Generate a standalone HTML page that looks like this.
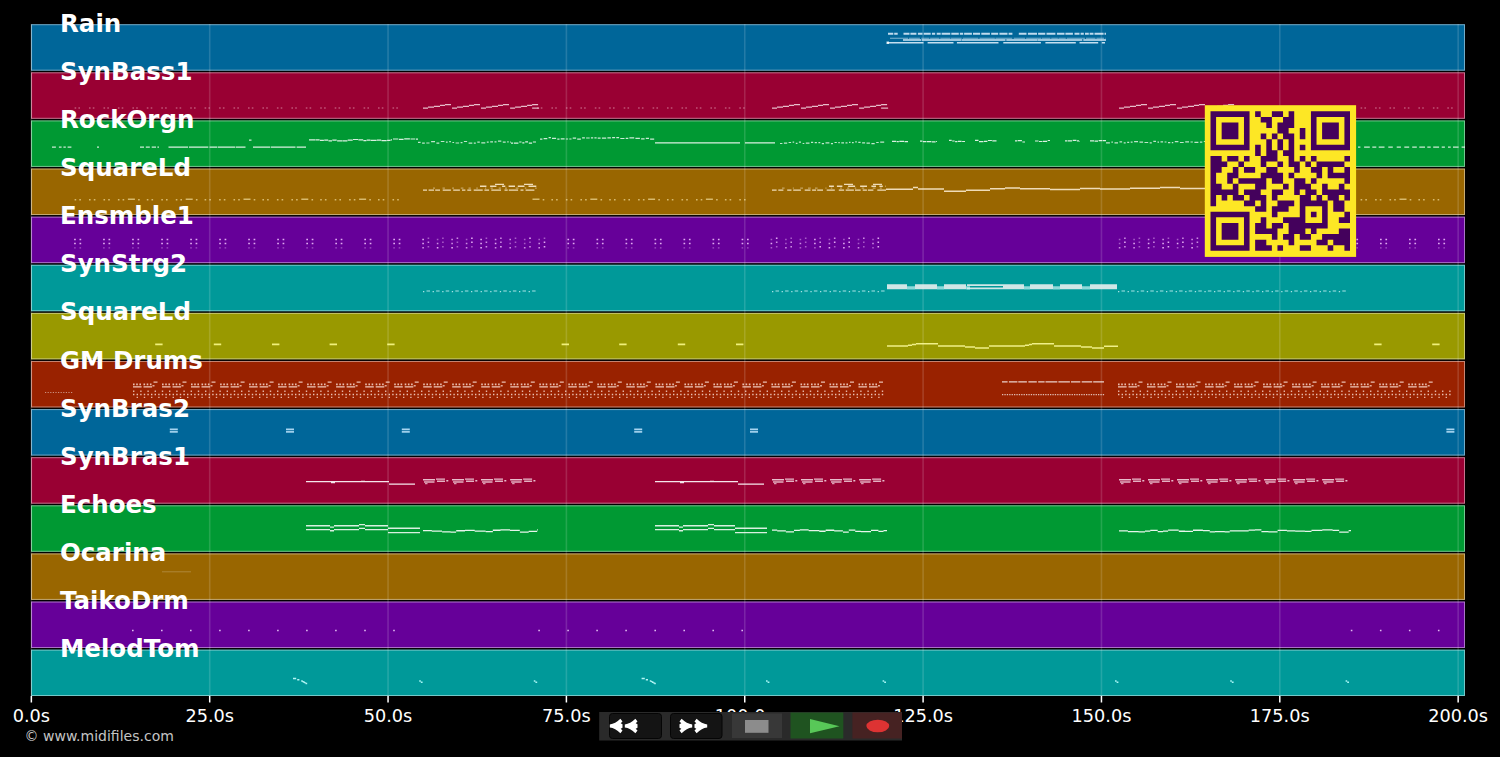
<!DOCTYPE html>
<html><head><meta charset="utf-8"><title>MIDI</title>
<style>html,body{margin:0;padding:0;background:#000;width:1500px;height:757px;overflow:hidden}</style>
</head><body>
<svg width="1500" height="757" viewBox="0 0 1500 757" style="position:absolute;left:0;top:0">
<rect x="31" y="24.20" width="1434" height="46.50" fill="#006699"/>
<rect x="31.5" y="24.70" width="1433" height="45.50" fill="none" stroke="rgba(255,255,255,0.45)" stroke-width="1"/>
<rect x="31" y="72.31" width="1434" height="46.50" fill="#990033"/>
<rect x="31.5" y="72.81" width="1433" height="45.50" fill="none" stroke="rgba(255,255,255,0.45)" stroke-width="1"/>
<rect x="31" y="120.42" width="1434" height="46.50" fill="#009933"/>
<rect x="31.5" y="120.92" width="1433" height="45.50" fill="none" stroke="rgba(255,255,255,0.45)" stroke-width="1"/>
<rect x="31" y="168.53" width="1434" height="46.50" fill="#996600"/>
<rect x="31.5" y="169.03" width="1433" height="45.50" fill="none" stroke="rgba(255,255,255,0.45)" stroke-width="1"/>
<rect x="31" y="216.64" width="1434" height="46.50" fill="#660099"/>
<rect x="31.5" y="217.14" width="1433" height="45.50" fill="none" stroke="rgba(255,255,255,0.45)" stroke-width="1"/>
<rect x="31" y="264.75" width="1434" height="46.50" fill="#009999"/>
<rect x="31.5" y="265.25" width="1433" height="45.50" fill="none" stroke="rgba(255,255,255,0.45)" stroke-width="1"/>
<rect x="31" y="312.86" width="1434" height="46.50" fill="#999900"/>
<rect x="31.5" y="313.36" width="1433" height="45.50" fill="none" stroke="rgba(255,255,255,0.45)" stroke-width="1"/>
<rect x="31" y="360.97" width="1434" height="46.50" fill="#992200"/>
<rect x="31.5" y="361.47" width="1433" height="45.50" fill="none" stroke="rgba(255,255,255,0.45)" stroke-width="1"/>
<rect x="31" y="409.08" width="1434" height="46.50" fill="#006699"/>
<rect x="31.5" y="409.58" width="1433" height="45.50" fill="none" stroke="rgba(255,255,255,0.45)" stroke-width="1"/>
<rect x="31" y="457.19" width="1434" height="46.50" fill="#990033"/>
<rect x="31.5" y="457.69" width="1433" height="45.50" fill="none" stroke="rgba(255,255,255,0.45)" stroke-width="1"/>
<rect x="31" y="505.30" width="1434" height="46.50" fill="#009933"/>
<rect x="31.5" y="505.80" width="1433" height="45.50" fill="none" stroke="rgba(255,255,255,0.45)" stroke-width="1"/>
<rect x="31" y="553.41" width="1434" height="46.50" fill="#996600"/>
<rect x="31.5" y="553.91" width="1433" height="45.50" fill="none" stroke="rgba(255,255,255,0.45)" stroke-width="1"/>
<rect x="31" y="601.52" width="1434" height="46.50" fill="#660099"/>
<rect x="31.5" y="602.02" width="1433" height="45.50" fill="none" stroke="rgba(255,255,255,0.45)" stroke-width="1"/>
<rect x="31" y="649.63" width="1434" height="46.37" fill="#009999"/>
<rect x="31.5" y="650.13" width="1433" height="45.37" fill="none" stroke="rgba(255,255,255,0.45)" stroke-width="1"/>
<line x1="31.35" y1="24" x2="31.35" y2="696" stroke="rgba(255,255,255,0.14)" stroke-width="1.6"/>
<line x1="209.70" y1="24" x2="209.70" y2="696" stroke="rgba(255,255,255,0.14)" stroke-width="1.6"/>
<line x1="388.05" y1="24" x2="388.05" y2="696" stroke="rgba(255,255,255,0.14)" stroke-width="1.6"/>
<line x1="566.40" y1="24" x2="566.40" y2="696" stroke="rgba(255,255,255,0.14)" stroke-width="1.6"/>
<line x1="744.75" y1="24" x2="744.75" y2="696" stroke="rgba(255,255,255,0.14)" stroke-width="1.6"/>
<line x1="923.10" y1="24" x2="923.10" y2="696" stroke="rgba(255,255,255,0.14)" stroke-width="1.6"/>
<line x1="1101.45" y1="24" x2="1101.45" y2="696" stroke="rgba(255,255,255,0.14)" stroke-width="1.6"/>
<line x1="1279.80" y1="24" x2="1279.80" y2="696" stroke="rgba(255,255,255,0.14)" stroke-width="1.6"/>
<line x1="1458.15" y1="24" x2="1458.15" y2="696" stroke="rgba(255,255,255,0.14)" stroke-width="1.6"/>
<g><path fill="#e8f4ff" fill-opacity="0.82" d="M888 32.8h5.3v1.9h-5.3zM894.2 32.8h3.5v1.9h-3.5zM903.5 32.8h6v1.9h-6zM910.4 32.8h6v1.9h-6zM917.9 32.8h4.6v1.9h-4.6zM923.7 32.8h7v1.9h-7zM931.9 32.8h3.3v1.9h-3.3zM936.7 32.8h4v1.9h-4zM941.6 32.8h8.7v1.9h-8.7zM951.3 32.8h7.5v1.9h-7.5zM959.8 32.8h3.4v1.9h-3.4zM964.1 32.8h7.8v1.9h-7.8zM973 32.8h7.1v1.9h-7.1zM981.3 32.8h8.6v1.9h-8.6zM991.2 32.8h7v1.9h-7zM999.4 32.8h8.1v1.9h-8.1zM1008.6 32.8h3.8v1.9h-3.8zM1018.8 32.8h7.7v1.9h-7.7zM1027.9 32.8h9.1v1.9h-9.1zM1038.1 32.8h7.2v1.9h-7.2zM1046.5 32.8h8.9v1.9h-8.9zM1056.9 32.8h7.6v1.9h-7.6zM1065.4 32.8h7.5v1.9h-7.5zM1074.5 32.8h5v1.9h-5zM1080.6 32.8h3.2v1.9h-3.2zM1085 32.8h3.8v1.9h-3.8zM1089.6 32.8h3.9v1.9h-3.9zM1094.5 32.8h9.1v1.9h-9.1zM1104.5 32.8h1.5v1.9h-1.5z"/><path fill="#e8f4ff" fill-opacity="0.55" d="M890 37.8h18.1v1h-18.1zM908.9 37.8h11v1h-11zM921.3 37.8h8.1v1h-8.1zM930.1 37.8h9.3v1h-9.3zM940.3 37.8h9.7v1h-9.7zM950.5 37.8h11.2v1h-11.2zM962.7 37.8h15.7v1h-15.7zM979.4 37.8h15.5v1h-15.5zM995.4 37.8h16.9v1h-16.9zM1013.7 37.8h11.5v1h-11.5zM1026.1 37.8h14.9v1h-14.9zM1041.6 37.8h8.9v1h-8.9zM1051.2 37.8h6.7v1h-6.7zM1058.4 37.8h7.4v1h-7.4zM1066.7 37.8h18.2v1h-18.2zM1086 37.8h9.5v1h-9.5zM1096.4 37.8h7.7v1h-7.7zM1105.5 37.8h0.5v1h-0.5z"/><path fill="#e8f4ff" fill-opacity="0.9" d="M903 39.3h18.1v1.4h-18.1zM921.7 39.3h39.9v1.4h-39.9zM962 39.3h43.5v1.4h-43.5zM1006.3 39.3h31.3v1.4h-31.3zM1037.9 39.3h44.4v1.4h-44.4zM1083.3 39.3h22.7v1.4h-22.7z"/><path fill="#e8f4ff" fill-opacity="0.85" d="M887 42.1h36.5v1.4h-36.5zM927.6 42.1h25.9v1.4h-25.9zM956.9 42.1h41.6v1.4h-41.6zM1003.3 42.1h37.6v1.4h-37.6zM1045.4 42.1h30.4v1.4h-30.4zM1079.5 42.1h18.7v1.4h-18.7zM1101.8 42.1h3.2v1.4h-3.2z"/><path fill="#fff" fill-opacity="0.8" d="M886.5 41.4h2.5v2.5h-2.5zM52 146.6h3.9v1.2h-3.9zM58.9 146.6h2.7v1.2h-2.7zM63.4 146.6h2.4v1.2h-2.4zM67.6 146.6h3.8v1.2h-3.8zM97 146.6h2v1.2h-2zM140 146.6h4v1.2h-4zM145.8 146.6h4v1.2h-4zM151.7 146.6h4.3v1.2h-4.3zM157.4 146.6h1.6v1.2h-1.6zM249 139.5h2.5v1.2h-2.5zM540 138.5h2.4v1.2h-2.4zM543.6 138.1h3.7v1.2h-3.7zM548.6 137.1h2.3v1.2h-2.3zM552 137.7h4.1v1.2h-4.1zM557.3 138.5h2.2v1.2h-2.2zM560.7 138.3h3.9v1.2h-3.9zM565.8 138.4h2.3v1.2h-2.3zM569.3 138.4h2.2v1.2h-2.2zM572.7 137.5h3.4v1.2h-3.4zM577.2 138.5h3.7v1.2h-3.7zM582.1 137.2h2.8v1.2h-2.8zM586.1 137.4h3.6v1.2h-3.6zM590.9 137.3h2.3v1.2h-2.3zM594.4 137.3h2.2v1.2h-2.2zM597.7 137.5h2.9v1.2h-2.9zM601.9 137.5h4.3v1.2h-4.3zM607.4 137.3h3.5v1.2h-3.5zM612.1 137h3v1.2h-3zM616.3 137h2.8v1.2h-2.8zM620.3 137.9h4.2v1.2h-4.2zM625.7 137.8h2.6v1.2h-2.6zM629.4 137.2h4.8v1.2h-4.8zM635.4 137.7h4.5v1.2h-4.5zM641.1 138.3h3.5v1.2h-3.5zM645.8 137.8h3.2v1.2h-3.2zM650.1 138.6h4.1v1.2h-4.1zM1358 146.6h2.4v1.2h-2.4zM1364.1 146.6h5.7v1.2h-5.7zM1372.3 146.6h4v1.2h-4zM1378.7 146.6h5.8v1.2h-5.8zM1388.3 146.6h4.5v1.2h-4.5zM1396.7 146.6h4.2v1.2h-4.2zM1404.3 146.6h4.9v1.2h-4.9zM1412.2 146.6h4.6v1.2h-4.6zM1419.3 146.6h5.7v1.2h-5.7zM1427.3 146.6h3.4v1.2h-3.4zM1433.2 146.6h5.9v1.2h-5.9zM1441.7 146.6h3.2v1.2h-3.2zM1448 146.6h2.7v1.2h-2.7zM1453 146.6h5.6v1.2h-5.6zM1461.6 146.6h3.4v1.2h-3.4zM1002 381.2h5.6v1.2h-5.6zM1008.9 381.2h8.5v1.2h-8.5zM1018.3 381.2h8.6v1.2h-8.6zM1028.4 381.2h8.4v1.2h-8.4zM1038.2 381.2h6.4v1.2h-6.4zM1045.5 381.2h11.8v1.2h-11.8zM1058.4 381.2h11.5v1.2h-11.5zM1071 381.2h9.3v1.2h-9.3zM1081.7 381.2h10.5v1.2h-10.5zM1093.2 381.2h10.8v1.2h-10.8z"/><path fill="#f4dde4" fill-opacity="0.85" d="M423 107.6h5v1.2h-5zM428 106.6h6v1.2h-6zM434 105.7h6v1.2h-6zM440 104.7h5v1.2h-5zM445 104h6v1.2h-6zM452 107.6h5v1.2h-5zM457 106.6h6v1.2h-6zM463 105.7h6v1.2h-6zM469 104.7h5v1.2h-5zM474 104h6v1.2h-6zM481 107.6h5v1.2h-5zM486 106.6h6v1.2h-6zM492 105.7h6v1.2h-6zM498 104.7h5v1.2h-5zM503 104h6v1.2h-6zM510.1 107.6h5v1.2h-5zM515.1 106.6h6v1.2h-6zM521.1 105.7h6v1.2h-6zM527.1 104.7h5v1.2h-5zM532.1 104h6v1.2h-6zM772 107.6h5v1.2h-5zM777 106.6h6v1.2h-6zM783 105.7h6v1.2h-6zM789 104.7h5v1.2h-5zM794 104h6v1.2h-6zM801 107.6h5v1.2h-5zM806 106.6h6v1.2h-6zM812 105.7h6v1.2h-6zM818 104.7h5v1.2h-5zM823 104h6v1.2h-6zM830 107.6h5v1.2h-5zM835 106.6h6v1.2h-6zM841 105.7h6v1.2h-6zM847 104.7h5v1.2h-5zM852 104h6v1.2h-6zM859.1 107.6h5v1.2h-5zM864.1 106.6h6v1.2h-6zM870.1 105.7h6v1.2h-6zM876.1 104.7h5v1.2h-5zM881.1 104h6v1.2h-6zM1119 107.6h5v1.2h-5zM1124 106.6h6v1.2h-6zM1130 105.7h6v1.2h-6zM1136 104.7h5v1.2h-5zM1141 104h6v1.2h-6zM1148 107.6h5v1.2h-5zM1153 106.6h6v1.2h-6zM1159 105.7h6v1.2h-6zM1165 104.7h5v1.2h-5zM1170 104h6v1.2h-6zM1177 107.6h5v1.2h-5zM1182 106.6h6v1.2h-6zM1188 105.7h6v1.2h-6zM1194 104.7h5v1.2h-5zM1199 104h6v1.2h-6zM1206.1 107.6h5v1.2h-5zM1211.1 106.6h6v1.2h-6zM1217.1 105.7h6v1.2h-6zM1223.1 104.7h5v1.2h-5zM1228.1 104h6v1.2h-6z"/><path fill="#f4dde4" fill-opacity="0.8" d="M532.1 107.6h7v1.2h-7zM881.1 107.6h7v1.2h-7zM1228.1 107.6h7v1.2h-7z"/><path fill="#ffd6e2" fill-opacity="0.38" d="M74.6 107.3h1.6v1.4h-1.6zM78.4 107.3h1.6v1.4h-1.6zM89 107.3h1.6v1.4h-1.6zM92.8 107.3h1.6v1.4h-1.6zM103.5 107.3h1.6v1.4h-1.6zM107.3 107.3h1.6v1.4h-1.6zM117.9 107.3h1.6v1.4h-1.6zM121.7 107.3h1.6v1.4h-1.6zM132.4 107.3h1.6v1.4h-1.6zM136.2 107.3h1.6v1.4h-1.6zM146.8 107.3h1.6v1.4h-1.6zM150.7 107.3h1.6v1.4h-1.6zM161.3 107.3h1.6v1.4h-1.6zM165.1 107.3h1.6v1.4h-1.6zM175.8 107.3h1.6v1.4h-1.6zM179.6 107.3h1.6v1.4h-1.6zM190.2 107.3h1.6v1.4h-1.6zM194 107.3h1.6v1.4h-1.6zM204.6 107.3h1.6v1.4h-1.6zM208.4 107.3h1.6v1.4h-1.6zM219.1 107.3h1.6v1.4h-1.6zM222.9 107.3h1.6v1.4h-1.6zM233.5 107.3h1.6v1.4h-1.6zM237.3 107.3h1.6v1.4h-1.6zM248 107.3h1.6v1.4h-1.6zM251.8 107.3h1.6v1.4h-1.6zM262.4 107.3h1.6v1.4h-1.6zM266.2 107.3h1.6v1.4h-1.6zM276.9 107.3h1.6v1.4h-1.6zM280.7 107.3h1.6v1.4h-1.6zM291.4 107.3h1.6v1.4h-1.6zM295.2 107.3h1.6v1.4h-1.6zM305.8 107.3h1.6v1.4h-1.6zM309.6 107.3h1.6v1.4h-1.6zM320.2 107.3h1.6v1.4h-1.6zM324.1 107.3h1.6v1.4h-1.6zM334.7 107.3h1.6v1.4h-1.6zM338.5 107.3h1.6v1.4h-1.6zM349.1 107.3h1.6v1.4h-1.6zM352.9 107.3h1.6v1.4h-1.6zM363.6 107.3h1.6v1.4h-1.6zM367.4 107.3h1.6v1.4h-1.6zM378 107.3h1.6v1.4h-1.6zM381.8 107.3h1.6v1.4h-1.6zM392.5 107.3h1.6v1.4h-1.6zM396.3 107.3h1.6v1.4h-1.6zM537 107.3h1.6v1.4h-1.6zM540.8 107.3h1.6v1.4h-1.6zM551.4 107.3h1.6v1.4h-1.6zM555.2 107.3h1.6v1.4h-1.6zM565.9 107.3h1.6v1.4h-1.6zM569.7 107.3h1.6v1.4h-1.6zM580.4 107.3h1.6v1.4h-1.6zM584.1 107.3h1.6v1.4h-1.6zM594.8 107.3h1.6v1.4h-1.6zM598.6 107.3h1.6v1.4h-1.6zM609.2 107.3h1.6v1.4h-1.6zM613 107.3h1.6v1.4h-1.6zM623.7 107.3h1.6v1.4h-1.6zM627.5 107.3h1.6v1.4h-1.6zM638.1 107.3h1.6v1.4h-1.6zM641.9 107.3h1.6v1.4h-1.6zM652.6 107.3h1.6v1.4h-1.6zM656.4 107.3h1.6v1.4h-1.6zM667 107.3h1.6v1.4h-1.6zM670.8 107.3h1.6v1.4h-1.6zM681.5 107.3h1.6v1.4h-1.6zM685.3 107.3h1.6v1.4h-1.6zM696 107.3h1.6v1.4h-1.6zM699.8 107.3h1.6v1.4h-1.6zM710.4 107.3h1.6v1.4h-1.6zM714.2 107.3h1.6v1.4h-1.6zM724.9 107.3h1.6v1.4h-1.6zM728.6 107.3h1.6v1.4h-1.6zM739.3 107.3h1.6v1.4h-1.6zM743.1 107.3h1.6v1.4h-1.6zM1360.6 107.3h1.6v1.4h-1.6zM1364.4 107.3h1.6v1.4h-1.6zM1375.1 107.3h1.6v1.4h-1.6zM1378.9 107.3h1.6v1.4h-1.6zM1389.5 107.3h1.6v1.4h-1.6zM1393.3 107.3h1.6v1.4h-1.6zM1404 107.3h1.6v1.4h-1.6zM1407.8 107.3h1.6v1.4h-1.6zM1418.4 107.3h1.6v1.4h-1.6zM1422.2 107.3h1.6v1.4h-1.6zM1432.9 107.3h1.6v1.4h-1.6zM1436.7 107.3h1.6v1.4h-1.6zM1447.3 107.3h1.6v1.4h-1.6zM1451.1 107.3h1.6v1.4h-1.6z"/><path fill="#fff" fill-opacity="0.85" d="M168.5 146.6h19.6v1.2h-19.6zM189 146.6h19.3v1.2h-19.3zM209.5 146.6h7.8v1.2h-7.8zM217.9 146.6h17.3v1.2h-17.3zM235.8 146.6h9.7v1.2h-9.7zM253 146.6h17.3v1.2h-17.3zM271 146.6h24.5v1.2h-24.5zM296.6 146.6h9.4v1.2h-9.4zM309 139.2h6.3v1.2h-6.3zM315.6 139.3h4v1.2h-4zM319.9 139.7h4v1.2h-4zM324.2 139.5h4v1.2h-4zM328.5 140.2h3.5v1.2h-3.5zM332.3 139.5h4.4v1.2h-4.4zM337.1 140.2h5.3v1.2h-5.3zM342.7 140.2h4.7v1.2h-4.7zM347.7 139.6h5v1.2h-5zM353 138.9h5.1v1.2h-5.1zM358.4 139.2h4.8v1.2h-4.8zM363.4 140h3v1.2h-3zM366.7 139.6h3.7v1.2h-3.7zM370.7 139.7h5.9v1.2h-5.9zM376.9 139.6h4.3v1.2h-4.3zM381.5 140h5.2v1.2h-5.2zM387.1 139.7h3.4v1.2h-3.4zM390.8 139.3h1.2v1.2h-1.2zM393 138.4h5.3v1.2h-5.3zM398.9 138.7h4.7v1.2h-4.7zM404.2 138.3h5.7v1.2h-5.7zM410.5 138.4h4.8v1.2h-4.8zM416 138.6h2v1.2h-2zM511 142.6h2.2v1.2h-2.2zM514 142.6h4.4v1.2h-4.4zM519.2 141.4h2.3v1.2h-2.3zM522.3 142.2h2.1v1.2h-2.1zM525.2 141.2h2.8v1.2h-2.8zM528.8 142.5h3.3v1.2h-3.3zM532.9 141.4h3.1v1.2h-3.1zM655 142.3h85v1.3h-85zM745 142.3h30v1.3h-30zM892 140.8h4.2v1.2h-4.2zM896.7 141.1h2.1v1.2h-2.1zM899.3 140.8h4.7v1.2h-4.7zM904.5 141.1h3.5v1.2h-3.5zM920 140.6h2.4v1.2h-2.4zM922.9 141.1h3.5v1.2h-3.5zM926.9 141.1h4.4v1.2h-4.4zM931.8 141.2h3.8v1.2h-3.8zM936.1 140.9h0.9v1.2h-0.9zM949 139.8h2.7v1.2h-2.7zM952.2 140.4h2.4v1.2h-2.4zM955.1 141.1h2.3v1.2h-2.3zM957.9 140.8h3.7v1.2h-3.7zM962.1 140.9h2.9v1.2h-2.9zM975 139.8h3.5v1.2h-3.5zM979 141h4.4v1.2h-4.4zM983.9 140.7h3.5v1.2h-3.5zM987.9 139.9h4v1.2h-4zM992.3 140.2h4.2v1.2h-4.2zM1015 140.2h2.2v1.2h-2.2zM1017.7 140.1h4.2v1.2h-4.2zM1022.4 141.4h2.6v1.2h-2.6zM1035 140.4h3.5v1.2h-3.5zM1039 140.9h3.4v1.2h-3.4zM1042.9 140.8h4.3v1.2h-4.3zM1047.7 139.9h2.3v1.2h-2.3zM1065 140.2h2.4v1.2h-2.4zM1067.9 140.3h4.2v1.2h-4.2zM1072.7 139.8h3.7v1.2h-3.7zM1076.9 140.2h2.2v1.2h-2.2zM1079.6 140.9h0.4v1.2h-0.4zM1090 140.3h4v1.2h-4zM1094.5 140.5h3.5v1.2h-3.5zM1098.6 140h3.4v1.2h-3.4zM1102.5 140.1h3.5v1.2h-3.5zM306 525.1h24v1.3h-24zM334 525.1h25v1.3h-25zM365 525.1h23v1.3h-23zM388 527.6h32v1.3h-32zM306 529h24v1.3h-24zM334 529h25v1.3h-25zM365 529h23v1.3h-23zM388 531.9h32v1.3h-32zM330 526.4h4v1.3h-4zM330 530.1h4v1.3h-4zM359 524h6v1.3h-6zM359 527.8h6v1.3h-6zM655 525.1h24v1.3h-24zM683 525.1h25v1.3h-25zM714 525.1h21v1.3h-21zM735 527.6h32v1.3h-32zM655 529h24v1.3h-24zM683 529h25v1.3h-25zM714 529h21v1.3h-21zM735 531.9h32v1.3h-32zM679 526.4h4v1.3h-4zM679 530.1h4v1.3h-4zM708 524h6v1.3h-6zM708 527.8h6v1.3h-6z"/><path fill="#fff" fill-opacity="0.75" d="M418 141.7h2.6v1.2h-2.6zM422.1 142.5h2.7v1.2h-2.7zM426.3 142.4h3.2v1.2h-3.2zM431.1 141.1h3.9v1.2h-3.9zM436.4 142.5h2.9v1.2h-2.9zM440.8 140.9h3.6v1.2h-3.6zM445.9 141.5h1.8v1.2h-1.8zM449.2 141.1h1.7v1.2h-1.7zM452.4 141.9h1.7v1.2h-1.7zM455.6 142.4h3.5v1.2h-3.5zM460.6 142h1.9v1.2h-1.9zM463.9 140.9h3.2v1.2h-3.2zM468.6 142.5h3.7v1.2h-3.7zM473.8 142.5h2v1.2h-2zM477.3 141.6h2.5v1.2h-2.5zM481.3 142.3h4v1.2h-4zM486.8 141.5h1.9v1.2h-1.9zM490.2 141.3h2.8v1.2h-2.8zM494.5 141.2h2v1.2h-2zM498 140.6h3.3v1.2h-3.3zM502.8 141.5h2.9v1.2h-2.9zM507.2 141.3h1.5v1.2h-1.5zM510.2 141.6h0.8v1.2h-0.8zM780 142.9h2.4v1.2h-2.4zM783.9 142.5h3.3v1.2h-3.3zM788.6 141.9h2.5v1.2h-2.5zM792.6 141.5h1.6v1.2h-1.6zM795.8 142.7h1.7v1.2h-1.7zM798.9 141.5h2.1v1.2h-2.1zM802.6 142.9h1.7v1.2h-1.7zM805.8 142.5h3.7v1.2h-3.7zM811 141.7h2.2v1.2h-2.2zM814.7 142.1h2.2v1.2h-2.2zM818.4 142.1h1.9v1.2h-1.9zM821.8 143.1h2.2v1.2h-2.2zM825.5 142.3h3.9v1.2h-3.9zM830.9 143.1h2.1v1.2h-2.1zM834.5 141.9h2.3v1.2h-2.3zM838.3 142h1.5v1.2h-1.5zM841.3 142.2h2.7v1.2h-2.7zM845.5 142.2h2v1.2h-2zM849 141.7h1.5v1.2h-1.5zM852 142h1.7v1.2h-1.7zM855.2 141.2h1.6v1.2h-1.6zM858.3 141.7h2.3v1.2h-2.3zM862.1 142.3h3v1.2h-3zM866.5 142.5h3.4v1.2h-3.4zM871.4 143h3.3v1.2h-3.3zM876.2 141.9h2.5v1.2h-2.5zM880.2 141.5h4v1.2h-4zM1106 142.3h3.9v1.2h-3.9zM1111.4 141.5h1.5v1.2h-1.5zM1114.5 142.3h3.5v1.2h-3.5zM1119.5 141.2h2.6v1.2h-2.6zM1123.7 142.3h2v1.2h-2zM1127.2 141.7h2v1.2h-2zM1130.7 141.6h1.9v1.2h-1.9zM1134.1 141h3.9v1.2h-3.9zM1139.5 141.6h3.6v1.2h-3.6zM1144.5 141.9h3.7v1.2h-3.7zM1149.7 142.2h2.1v1.2h-2.1zM1153.3 140.8h2.7v1.2h-2.7zM1157.5 141.6h1.5v1.2h-1.5zM1160.5 141.3h2.6v1.2h-2.6zM1164.6 141.4h1.9v1.2h-1.9zM1168 142.1h2.3v1.2h-2.3zM1171.8 142h1.5v1.2h-1.5zM1174.8 141h3.6v1.2h-3.6zM1179.9 141.9h3.8v1.2h-3.8zM1185.2 141.3h3.8v1.2h-3.8zM1190.5 141.4h2.4v1.2h-2.4zM1194.4 141.7h4v1.2h-4zM1199.9 141.5h2.4v1.2h-2.4zM1203.8 140.9h1.2v1.2h-1.2z"/><path fill="#ffeeb0" fill-opacity="0.62" d="M74.6 199h1.6v1.4h-1.6zM79.3 199h1.6v1.4h-1.6zM89 199h1.6v1.4h-1.6zM93.8 199h1.6v1.4h-1.6zM103.5 199h1.6v1.4h-1.6zM108.2 199h1.6v1.4h-1.6zM117.9 199h1.6v1.4h-1.6zM122.6 199h1.6v1.4h-1.6zM127.9 198.6h7v1.4h-7zM138.1 199h1.6v1.4h-1.6zM146.8 199h1.6v1.4h-1.6zM151.5 199h1.6v1.4h-1.6zM161.3 199h1.6v1.4h-1.6zM166 199h1.6v1.4h-1.6zM175.8 199h1.6v1.4h-1.6zM180.4 199h1.6v1.4h-1.6zM185.7 198.6h7v1.4h-7zM195.9 199h1.6v1.4h-1.6zM204.6 199h1.6v1.4h-1.6zM209.3 199h1.6v1.4h-1.6zM219.1 199h1.6v1.4h-1.6zM223.8 199h1.6v1.4h-1.6zM233.5 199h1.6v1.4h-1.6zM238.2 199h1.6v1.4h-1.6zM243.5 198.6h7v1.4h-7zM253.7 199h1.6v1.4h-1.6zM262.4 199h1.6v1.4h-1.6zM267.1 199h1.6v1.4h-1.6zM276.9 199h1.6v1.4h-1.6zM281.6 199h1.6v1.4h-1.6zM291.4 199h1.6v1.4h-1.6zM296.1 199h1.6v1.4h-1.6zM301.3 198.6h7v1.4h-7zM311.5 199h1.6v1.4h-1.6zM320.2 199h1.6v1.4h-1.6zM324.9 199h1.6v1.4h-1.6zM334.7 199h1.6v1.4h-1.6zM339.4 199h1.6v1.4h-1.6zM349.1 199h1.6v1.4h-1.6zM353.8 199h1.6v1.4h-1.6zM359.1 198.6h7v1.4h-7zM369.3 199h1.6v1.4h-1.6zM378 199h1.6v1.4h-1.6zM382.7 199h1.6v1.4h-1.6zM392.5 199h1.6v1.4h-1.6zM397.2 199h1.6v1.4h-1.6zM532.5 198.6h7v1.4h-7zM542.7 199h1.6v1.4h-1.6zM551.4 199h1.6v1.4h-1.6zM556.1 199h1.6v1.4h-1.6zM565.9 199h1.6v1.4h-1.6zM570.6 199h1.6v1.4h-1.6zM580.4 199h1.6v1.4h-1.6zM585.1 199h1.6v1.4h-1.6zM590.3 198.6h7v1.4h-7zM600.5 199h1.6v1.4h-1.6zM609.2 199h1.6v1.4h-1.6zM614 199h1.6v1.4h-1.6zM623.7 199h1.6v1.4h-1.6zM628.4 199h1.6v1.4h-1.6zM638.1 199h1.6v1.4h-1.6zM642.9 199h1.6v1.4h-1.6zM648.1 198.6h7v1.4h-7zM658.3 199h1.6v1.4h-1.6zM667 199h1.6v1.4h-1.6zM671.8 199h1.6v1.4h-1.6zM681.5 199h1.6v1.4h-1.6zM686.2 199h1.6v1.4h-1.6zM696 199h1.6v1.4h-1.6zM700.7 199h1.6v1.4h-1.6zM705.9 198.6h7v1.4h-7zM716.1 199h1.6v1.4h-1.6zM724.9 199h1.6v1.4h-1.6zM729.6 199h1.6v1.4h-1.6zM739.3 199h1.6v1.4h-1.6zM744 199h1.6v1.4h-1.6zM1360.6 199h1.6v1.4h-1.6zM1365.3 199h1.6v1.4h-1.6zM1375.1 199h1.6v1.4h-1.6zM1379.8 199h1.6v1.4h-1.6zM1389.5 199h1.6v1.4h-1.6zM1394.2 199h1.6v1.4h-1.6zM1399.5 198.6h7v1.4h-7zM1409.7 199h1.6v1.4h-1.6zM1418.4 199h1.6v1.4h-1.6zM1423.1 199h1.6v1.4h-1.6zM1432.9 199h1.6v1.4h-1.6zM1437.6 199h1.6v1.4h-1.6z"/><path fill="#fff1d8" fill-opacity="0.85" d="M423 189.4h4v1.4h-4zM428.6 189.4h5.4v1.4h-5.4zM435.2 189.4h4.8v1.4h-4.8zM442.7 189.4h8.2v1.4h-8.2zM453.2 189.4h6.7v1.4h-6.7zM462 189.4h3.4v1.4h-3.4zM467.3 189.4h3.9v1.4h-3.9zM473.7 189.4h9v1.4h-9zM484.4 189.4h4.7v1.4h-4.7zM491.3 189.4h9.7v1.4h-9.7zM504.5 189.4h3.2v1.4h-3.2zM508.8 189.4h9.3v1.4h-9.3zM520.5 189.4h3v1.4h-3zM525.6 189.4h8.8v1.4h-8.8zM538 189.4h0v1.4h-0zM480 185.6h6.4v1.4h-6.4zM490.1 185.6h6.3v1.4h-6.3zM502.1 185.6h3.2v1.4h-3.2zM508.6 185.6h6.4v1.4h-6.4zM517.8 185.6h6.7v1.4h-6.7zM528.5 185.6h7.8v1.4h-7.8zM495 183.8h9v1.3h-9zM524 183.8h9v1.3h-9zM772 189.4h4.6v1.4h-4.6zM778.3 189.4h5.1v1.4h-5.1zM787.2 189.4h4.3v1.4h-4.3zM793.2 189.4h7.7v1.4h-7.7zM804.7 189.4h5.8v1.4h-5.8zM812.1 189.4h4v1.4h-4zM817.2 189.4h5.8v1.4h-5.8zM826.7 189.4h8.1v1.4h-8.1zM838.8 189.4h5.3v1.4h-5.3zM845.7 189.4h8.2v1.4h-8.2zM855 189.4h5.7v1.4h-5.7zM862.7 189.4h4.2v1.4h-4.2zM867.9 189.4h5.5v1.4h-5.5zM877.3 189.4h8.7v1.4h-8.7zM829 185.6h4.9v1.4h-4.9zM836.9 185.6h5.5v1.4h-5.5zM848.1 185.6h7v1.4h-7zM860.1 185.6h6.9v1.4h-6.9zM871.4 185.6h4.6v1.4h-4.6zM879.4 185.6h3.4v1.4h-3.4zM885.6 185.6h0.4v1.4h-0.4zM844 183.8h9v1.3h-9zM873 183.8h9v1.3h-9zM886 188.4h27v1.5h-27zM913 186.8h5v1.5h-5zM918 188.2h26v1.5h-26zM944 190.4h22v1.5h-22zM966 189.6h24v1.5h-24zM990 188.1h15v1.5h-15zM1005 187.2h15v1.5h-15zM1020 188.1h30v1.5h-30zM1050 188.8h30v1.5h-30zM1080 187.7h20v1.5h-20zM1100 188.2h30v1.5h-30zM1130 187.4h30v1.5h-30zM1160 186.8h20v1.5h-20zM1180 187.8h25v1.5h-25z"/><path fill="#fff1d8" fill-opacity="0.45" d="M433 187.6h2v1.1h-2zM442.5 187.6h2.4v1.1h-2.4zM452.1 187.6h1.9v1.1h-1.9zM460.8 187.6h2.6v1.1h-2.6zM468.5 187.6h2.3v1.1h-2.3zM476.3 187.6h1.5v1.1h-1.5zM485 187.6h1.2v1.1h-1.2zM490.6 187.6h2.2v1.1h-2.2zM498.7 187.6h2.2v1.1h-2.2zM505 187.6h1.9v1.1h-1.9zM515.7 187.6h2.8v1.1h-2.8zM524.8 187.6h1.5v1.1h-1.5zM535.1 187.6h1.6v1.1h-1.6zM782 187.6h2.6v1.1h-2.6zM792.8 187.6h1.1v1.1h-1.1zM800.2 187.6h2.8v1.1h-2.8zM808 187.6h2.8v1.1h-2.8zM815 187.6h2.6v1.1h-2.6zM825.4 187.6h1.1v1.1h-1.1zM830.8 187.6h1.5v1.1h-1.5zM840.1 187.6h1.7v1.1h-1.7zM847.1 187.6h2.2v1.1h-2.2zM854.6 187.6h1.6v1.1h-1.6zM861.7 187.6h2.5v1.1h-2.5zM872.7 187.6h2.9v1.1h-2.9zM879.8 187.6h2v1.1h-2z"/><path fill="#f6c8ff" fill-opacity="0.85" d="M74.1 238.7h1.7v1.6h-1.7zM74.1 242.7h1.7v1.6h-1.7zM79.5 238.7h1.7v1.6h-1.7zM79.5 242.7h1.7v1.6h-1.7zM103.1 238.7h1.7v1.6h-1.7zM103.1 242.7h1.7v1.6h-1.7zM108.5 238.7h1.7v1.6h-1.7zM108.5 242.7h1.7v1.6h-1.7zM132.1 238.7h1.7v1.6h-1.7zM132.1 242.7h1.7v1.6h-1.7zM137.5 238.7h1.7v1.6h-1.7zM137.5 242.7h1.7v1.6h-1.7zM161.2 238.7h1.7v1.6h-1.7zM161.2 242.7h1.7v1.6h-1.7zM166.6 238.7h1.7v1.6h-1.7zM166.6 242.7h1.7v1.6h-1.7zM190.2 238.7h1.7v1.6h-1.7zM190.2 242.7h1.7v1.6h-1.7zM195.6 238.7h1.7v1.6h-1.7zM195.6 242.7h1.7v1.6h-1.7zM219.2 238.7h1.7v1.6h-1.7zM219.2 242.7h1.7v1.6h-1.7zM224.6 238.7h1.7v1.6h-1.7zM224.6 242.7h1.7v1.6h-1.7zM248.2 238.7h1.7v1.6h-1.7zM248.2 242.7h1.7v1.6h-1.7zM253.6 238.7h1.7v1.6h-1.7zM253.6 242.7h1.7v1.6h-1.7zM277.2 238.7h1.7v1.6h-1.7zM277.2 242.7h1.7v1.6h-1.7zM282.6 238.7h1.7v1.6h-1.7zM282.6 242.7h1.7v1.6h-1.7zM306.3 238.7h1.7v1.6h-1.7zM306.3 242.7h1.7v1.6h-1.7zM311.7 238.7h1.7v1.6h-1.7zM311.7 242.7h1.7v1.6h-1.7zM335.3 238.7h1.7v1.6h-1.7zM335.3 242.7h1.7v1.6h-1.7zM340.7 238.7h1.7v1.6h-1.7zM340.7 242.7h1.7v1.6h-1.7zM364.3 238.7h1.7v1.6h-1.7zM364.3 242.7h1.7v1.6h-1.7zM369.7 238.7h1.7v1.6h-1.7zM369.7 242.7h1.7v1.6h-1.7zM393.3 238.7h1.7v1.6h-1.7zM393.3 242.7h1.7v1.6h-1.7zM398.7 238.7h1.7v1.6h-1.7zM398.7 242.7h1.7v1.6h-1.7zM567.4 238.7h1.7v1.6h-1.7zM567.4 242.7h1.7v1.6h-1.7zM572.8 238.7h1.7v1.6h-1.7zM572.8 242.7h1.7v1.6h-1.7zM596.5 238.7h1.7v1.6h-1.7zM596.5 242.7h1.7v1.6h-1.7zM601.9 238.7h1.7v1.6h-1.7zM601.9 242.7h1.7v1.6h-1.7zM625.5 238.7h1.7v1.6h-1.7zM625.5 242.7h1.7v1.6h-1.7zM630.9 238.7h1.7v1.6h-1.7zM630.9 242.7h1.7v1.6h-1.7zM654.5 238.7h1.7v1.6h-1.7zM654.5 242.7h1.7v1.6h-1.7zM659.9 238.7h1.7v1.6h-1.7zM659.9 242.7h1.7v1.6h-1.7zM683.5 238.7h1.7v1.6h-1.7zM683.5 242.7h1.7v1.6h-1.7zM688.9 238.7h1.7v1.6h-1.7zM688.9 242.7h1.7v1.6h-1.7zM712.5 238.7h1.7v1.6h-1.7zM712.5 242.7h1.7v1.6h-1.7zM717.9 238.7h1.7v1.6h-1.7zM717.9 242.7h1.7v1.6h-1.7zM741.6 238.7h1.7v1.6h-1.7zM741.6 242.7h1.7v1.6h-1.7zM747 238.7h1.7v1.6h-1.7zM747 242.7h1.7v1.6h-1.7zM1351 238.7h1.7v1.6h-1.7zM1351 242.7h1.7v1.6h-1.7zM1356.4 238.7h1.7v1.6h-1.7zM1356.4 242.7h1.7v1.6h-1.7zM1380 238.7h1.7v1.6h-1.7zM1380 242.7h1.7v1.6h-1.7zM1385.4 238.7h1.7v1.6h-1.7zM1385.4 242.7h1.7v1.6h-1.7zM1409 238.7h1.7v1.6h-1.7zM1409 242.7h1.7v1.6h-1.7zM1414.4 238.7h1.7v1.6h-1.7zM1414.4 242.7h1.7v1.6h-1.7zM1438 238.7h1.7v1.6h-1.7zM1438 242.7h1.7v1.6h-1.7zM1443.4 238.7h1.7v1.6h-1.7zM1443.4 242.7h1.7v1.6h-1.7zM422.3 238.7h1.6v1.5h-1.6zM422.3 242.7h1.6v1.5h-1.6zM436.8 247.1h1.6v1.5h-1.6zM451.3 247.1h1.6v1.5h-1.6zM471.1 237.4h1.6v1.5h-1.6zM471.1 241.4h1.6v1.5h-1.6zM480.3 238.7h1.6v1.5h-1.6zM480.3 242.7h1.6v1.5h-1.6zM480.3 247.1h1.6v1.5h-1.6zM494.8 242.7h1.6v1.5h-1.6zM500.1 246.1h1.6v1.5h-1.6zM529.2 237.4h1.6v1.5h-1.6zM543.7 241.4h1.6v1.5h-1.6zM543.7 246.1h1.6v1.5h-1.6zM770.6 242.7h1.6v1.5h-1.6zM775.9 237.4h1.6v1.5h-1.6zM814.1 238.7h1.6v1.5h-1.6zM814.1 242.7h1.6v1.5h-1.6zM819.4 246.1h1.6v1.5h-1.6zM828.6 247.1h1.6v1.5h-1.6zM833.9 241.4h1.6v1.5h-1.6zM843.1 242.7h1.6v1.5h-1.6zM843.1 247.1h1.6v1.5h-1.6zM848.4 237.4h1.6v1.5h-1.6zM848.4 241.4h1.6v1.5h-1.6zM877.5 237.4h1.6v1.5h-1.6zM877.5 241.4h1.6v1.5h-1.6zM877.5 246.1h1.6v1.5h-1.6zM1124.1 241.4h1.6v1.5h-1.6zM1133.3 242.7h1.6v1.5h-1.6zM1147.8 242.7h1.6v1.5h-1.6zM1162.3 242.7h1.6v1.5h-1.6zM1162.3 247.1h1.6v1.5h-1.6zM1167.6 241.4h1.6v1.5h-1.6zM1167.6 246.1h1.6v1.5h-1.6zM1176.8 242.7h1.6v1.5h-1.6zM1182.1 241.4h1.6v1.5h-1.6zM1191.3 247.1h1.6v1.5h-1.6z"/><path fill="#f6c8ff" fill-opacity="0.4" d="M74.1 247.2h1.6v1.4h-1.6zM79.5 247.2h1.6v1.4h-1.6zM103.1 247.2h1.6v1.4h-1.6zM108.5 247.2h1.6v1.4h-1.6zM132.1 247.2h1.6v1.4h-1.6zM137.5 247.2h1.6v1.4h-1.6zM161.2 247.2h1.6v1.4h-1.6zM166.6 247.2h1.6v1.4h-1.6zM190.2 247.2h1.6v1.4h-1.6zM195.6 247.2h1.6v1.4h-1.6zM219.2 247.2h1.6v1.4h-1.6zM224.6 247.2h1.6v1.4h-1.6zM248.2 247.2h1.6v1.4h-1.6zM253.6 247.2h1.6v1.4h-1.6zM277.2 247.2h1.6v1.4h-1.6zM282.6 247.2h1.6v1.4h-1.6zM306.3 247.2h1.6v1.4h-1.6zM311.7 247.2h1.6v1.4h-1.6zM335.3 247.2h1.6v1.4h-1.6zM340.7 247.2h1.6v1.4h-1.6zM364.3 247.2h1.6v1.4h-1.6zM369.7 247.2h1.6v1.4h-1.6zM393.3 247.2h1.6v1.4h-1.6zM398.7 247.2h1.6v1.4h-1.6zM567.4 247.2h1.6v1.4h-1.6zM572.8 247.2h1.6v1.4h-1.6zM596.5 247.2h1.6v1.4h-1.6zM601.9 247.2h1.6v1.4h-1.6zM625.5 247.2h1.6v1.4h-1.6zM630.9 247.2h1.6v1.4h-1.6zM654.5 247.2h1.6v1.4h-1.6zM659.9 247.2h1.6v1.4h-1.6zM683.5 247.2h1.6v1.4h-1.6zM688.9 247.2h1.6v1.4h-1.6zM712.5 247.2h1.6v1.4h-1.6zM717.9 247.2h1.6v1.4h-1.6zM741.6 247.2h1.6v1.4h-1.6zM747 247.2h1.6v1.4h-1.6zM1351 247.2h1.6v1.4h-1.6zM1356.4 247.2h1.6v1.4h-1.6zM1380 247.2h1.6v1.4h-1.6zM1385.4 247.2h1.6v1.4h-1.6zM1409 247.2h1.6v1.4h-1.6zM1414.4 247.2h1.6v1.4h-1.6zM1438 247.2h1.6v1.4h-1.6zM1443.4 247.2h1.6v1.4h-1.6z"/><path fill="#f6c8ff" fill-opacity="0.7" d="M422.3 247.1h1.6v1.5h-1.6zM427.6 241.4h1.6v1.5h-1.6zM436.8 242.7h1.6v1.5h-1.6zM451.3 238.7h1.6v1.5h-1.6zM451.3 242.7h1.6v1.5h-1.6zM456.6 237.4h1.6v1.5h-1.6zM465.8 242.7h1.6v1.5h-1.6zM465.8 247.1h1.6v1.5h-1.6zM485.6 241.4h1.6v1.5h-1.6zM485.6 246.1h1.6v1.5h-1.6zM494.8 238.7h1.6v1.5h-1.6zM494.8 247.1h1.6v1.5h-1.6zM500.1 237.4h1.6v1.5h-1.6zM500.1 241.4h1.6v1.5h-1.6zM509.4 238.7h1.6v1.5h-1.6zM509.4 247.1h1.6v1.5h-1.6zM523.9 247.1h1.6v1.5h-1.6zM529.2 246.1h1.6v1.5h-1.6zM538.4 242.7h1.6v1.5h-1.6zM538.4 247.1h1.6v1.5h-1.6zM775.9 241.4h1.6v1.5h-1.6zM785.1 247.1h1.6v1.5h-1.6zM790.4 241.4h1.6v1.5h-1.6zM790.4 246.1h1.6v1.5h-1.6zM799.6 242.7h1.6v1.5h-1.6zM819.4 241.4h1.6v1.5h-1.6zM828.6 242.7h1.6v1.5h-1.6zM833.9 237.4h1.6v1.5h-1.6zM848.4 246.1h1.6v1.5h-1.6zM857.7 247.1h1.6v1.5h-1.6zM863 237.4h1.6v1.5h-1.6zM872.2 242.7h1.6v1.5h-1.6zM1118.8 247.1h1.6v1.5h-1.6zM1124.1 237.4h1.6v1.5h-1.6zM1124.1 246.1h1.6v1.5h-1.6zM1133.3 247.1h1.6v1.5h-1.6zM1147.8 238.7h1.6v1.5h-1.6zM1147.8 247.1h1.6v1.5h-1.6zM1153.1 241.4h1.6v1.5h-1.6zM1162.3 238.7h1.6v1.5h-1.6zM1182.1 237.4h1.6v1.5h-1.6zM1182.1 246.1h1.6v1.5h-1.6zM1191.3 238.7h1.6v1.5h-1.6zM1191.3 242.7h1.6v1.5h-1.6zM1196.6 237.4h1.6v1.5h-1.6zM1196.6 241.4h1.6v1.5h-1.6z"/><path fill="#f6c8ff" fill-opacity="0.45" d="M427.6 237.4h1.6v1.5h-1.6zM427.6 246.1h1.6v1.5h-1.6zM436.8 238.7h1.6v1.5h-1.6zM442.1 237.4h1.6v1.5h-1.6zM442.1 241.4h1.6v1.5h-1.6zM442.1 246.1h1.6v1.5h-1.6zM456.6 241.4h1.6v1.5h-1.6zM456.6 246.1h1.6v1.5h-1.6zM465.8 238.7h1.6v1.5h-1.6zM471.1 246.1h1.6v1.5h-1.6zM485.6 237.4h1.6v1.5h-1.6zM509.4 242.7h1.6v1.5h-1.6zM514.7 237.4h1.6v1.5h-1.6zM514.7 241.4h1.6v1.5h-1.6zM514.7 246.1h1.6v1.5h-1.6zM523.9 238.7h1.6v1.5h-1.6zM523.9 242.7h1.6v1.5h-1.6zM529.2 241.4h1.6v1.5h-1.6zM538.4 238.7h1.6v1.5h-1.6zM543.7 237.4h1.6v1.5h-1.6zM770.6 238.7h1.6v1.5h-1.6zM770.6 247.1h1.6v1.5h-1.6zM775.9 246.1h1.6v1.5h-1.6zM785.1 238.7h1.6v1.5h-1.6zM785.1 242.7h1.6v1.5h-1.6zM790.4 237.4h1.6v1.5h-1.6zM799.6 238.7h1.6v1.5h-1.6zM799.6 247.1h1.6v1.5h-1.6zM804.9 237.4h1.6v1.5h-1.6zM804.9 241.4h1.6v1.5h-1.6zM804.9 246.1h1.6v1.5h-1.6zM814.1 247.1h1.6v1.5h-1.6zM819.4 237.4h1.6v1.5h-1.6zM828.6 238.7h1.6v1.5h-1.6zM833.9 246.1h1.6v1.5h-1.6zM843.1 238.7h1.6v1.5h-1.6zM857.7 238.7h1.6v1.5h-1.6zM857.7 242.7h1.6v1.5h-1.6zM863 241.4h1.6v1.5h-1.6zM863 246.1h1.6v1.5h-1.6zM872.2 238.7h1.6v1.5h-1.6zM872.2 247.1h1.6v1.5h-1.6zM1118.8 238.7h1.6v1.5h-1.6zM1118.8 242.7h1.6v1.5h-1.6zM1133.3 238.7h1.6v1.5h-1.6zM1138.6 237.4h1.6v1.5h-1.6zM1138.6 241.4h1.6v1.5h-1.6zM1138.6 246.1h1.6v1.5h-1.6zM1153.1 237.4h1.6v1.5h-1.6zM1153.1 246.1h1.6v1.5h-1.6zM1167.6 237.4h1.6v1.5h-1.6zM1176.8 238.7h1.6v1.5h-1.6zM1176.8 247.1h1.6v1.5h-1.6zM1196.6 246.1h1.6v1.5h-1.6z"/><path fill="#dffcff" fill-opacity="0.75" d="M423 291h1.3v1.2h-1.3zM426.5 290.4h3.5v1.2h-3.5zM432.6 291h1.3v1.2h-1.3zM436.1 290.4h3.5v1.2h-3.5zM442.2 291h1.3v1.2h-1.3zM445.7 290.4h3.5v1.2h-3.5zM451.8 291h1.3v1.2h-1.3zM455.3 290.4h3.5v1.2h-3.5zM461.4 291h1.3v1.2h-1.3zM464.9 290.4h3.5v1.2h-3.5zM471 291h1.3v1.2h-1.3zM474.5 290.4h3.5v1.2h-3.5zM480.6 291h1.3v1.2h-1.3zM484.1 290.4h3.5v1.2h-3.5zM490.2 291h1.3v1.2h-1.3zM493.7 290.4h3.5v1.2h-3.5zM499.8 291h1.3v1.2h-1.3zM503.3 290.4h3.5v1.2h-3.5zM509.4 291h1.3v1.2h-1.3zM512.9 290.4h3.5v1.2h-3.5zM519 291h1.3v1.2h-1.3zM522.5 290.4h3.5v1.2h-3.5zM528.6 291h1.3v1.2h-1.3zM532.1 290.4h3.5v1.2h-3.5zM772 291h1.3v1.2h-1.3zM775.5 290.4h3.5v1.2h-3.5zM781.6 291h1.3v1.2h-1.3zM785.1 290.4h3.5v1.2h-3.5zM791.2 291h1.3v1.2h-1.3zM794.7 290.4h3.5v1.2h-3.5zM800.8 291h1.3v1.2h-1.3zM804.3 290.4h3.5v1.2h-3.5zM810.4 291h1.3v1.2h-1.3zM813.9 290.4h3.5v1.2h-3.5zM820 291h1.3v1.2h-1.3zM823.5 290.4h3.5v1.2h-3.5zM829.6 291h1.3v1.2h-1.3zM833.1 290.4h3.5v1.2h-3.5zM839.2 291h1.3v1.2h-1.3zM842.7 290.4h3.5v1.2h-3.5zM848.8 291h1.3v1.2h-1.3zM852.3 290.4h3.5v1.2h-3.5zM858.4 291h1.3v1.2h-1.3zM861.9 290.4h3.5v1.2h-3.5zM868 291h1.3v1.2h-1.3zM871.5 290.4h3.5v1.2h-3.5zM877.6 291h1.3v1.2h-1.3zM881.1 290.4h3.5v1.2h-3.5zM1118 291h1.3v1.2h-1.3zM1121.5 290.4h3.5v1.2h-3.5zM1127.6 291h1.3v1.2h-1.3zM1131.1 290.4h3.5v1.2h-3.5zM1137.2 291h1.3v1.2h-1.3zM1140.7 290.4h3.5v1.2h-3.5zM1146.8 291h1.3v1.2h-1.3zM1150.3 290.4h3.5v1.2h-3.5zM1156.4 291h1.3v1.2h-1.3zM1159.9 290.4h3.5v1.2h-3.5zM1166 291h1.3v1.2h-1.3zM1169.5 290.4h3.5v1.2h-3.5zM1175.6 291h1.3v1.2h-1.3zM1179.1 290.4h3.5v1.2h-3.5zM1185.2 291h1.3v1.2h-1.3zM1188.7 290.4h3.5v1.2h-3.5zM1194.8 291h1.3v1.2h-1.3zM1198.3 290.4h3.5v1.2h-3.5zM1204.4 291h1.3v1.2h-1.3zM1207.9 290.4h3.5v1.2h-3.5zM1214 291h1.3v1.2h-1.3zM1217.5 290.4h3.5v1.2h-3.5zM1223.6 291h1.3v1.2h-1.3zM1227.1 290.4h3.5v1.2h-3.5zM1233.2 291h1.3v1.2h-1.3zM1236.7 290.4h3.5v1.2h-3.5zM1242.8 291h1.3v1.2h-1.3zM1246.3 290.4h3.5v1.2h-3.5zM1252.4 291h1.3v1.2h-1.3zM1255.9 290.4h3.5v1.2h-3.5zM1262 291h1.3v1.2h-1.3zM1265.5 290.4h3.5v1.2h-3.5zM1271.6 291h1.3v1.2h-1.3zM1275.1 290.4h3.5v1.2h-3.5zM1281.2 291h1.3v1.2h-1.3zM1284.7 290.4h3.5v1.2h-3.5zM1290.8 291h1.3v1.2h-1.3zM1294.3 290.4h3.5v1.2h-3.5zM1300.4 291h1.3v1.2h-1.3zM1303.9 290.4h3.5v1.2h-3.5zM1310 291h1.3v1.2h-1.3zM1313.5 290.4h3.5v1.2h-3.5zM1319.6 291h1.3v1.2h-1.3zM1323.1 290.4h3.5v1.2h-3.5zM1329.2 291h1.3v1.2h-1.3zM1332.7 290.4h3.5v1.2h-3.5zM1338.8 291h1.3v1.2h-1.3zM1342.3 290.4h3.5v1.2h-3.5z"/><path fill="#e8eeee" fill-opacity="0.9" d="M887 284.2h20v5h-20zM915 284.2h22v5h-22zM944 284.2h22v5h-22zM1003 284.2h21v5h-21zM1030 284.2h23v5h-23zM1060 284.2h22v5h-22zM1090 284.2h27v5h-27zM967 284.2h36v1.8h-36zM967 287.4h36v1.8h-36z"/><path fill="#c8f4f4" fill-opacity="0.7" d="M907 286.2h8v3.2h-8zM937 286.2h7v3.2h-7zM966 286.2h4v3.2h-4zM1024 286.2h6v3.2h-6zM1053 286.2h7v3.2h-7zM1082 286.2h8v3.2h-8z"/><path fill="#ffff90" fill-opacity="0.85" d="M155.2 343.5h7.4v1.8h-7.4zM213.8 343.5h7.4v1.8h-7.4zM272 343.5h7.4v1.8h-7.4zM329.6 343.5h7.4v1.8h-7.4zM387.2 343.5h7.4v1.8h-7.4zM561.6 343.5h7.4v1.8h-7.4zM619.2 343.5h7.4v1.8h-7.4zM677.8 343.5h7.4v1.8h-7.4zM736 343.5h7.4v1.8h-7.4zM1374.2 343.5h7.4v1.8h-7.4zM1432.2 343.5h7.4v1.8h-7.4z"/><path fill="#ffffa0" fill-opacity="0.85" d="M887 345.2h21v1.6h-21zM908 344.5h4v1.6h-4zM912 343.7h4v1.6h-4zM916 343h22v1.6h-22zM938 345.2h27v1.6h-27zM965 346.2h10v1.6h-10zM975 347.2h14v1.6h-14zM989 345.2h36v1.6h-36zM1025 344.5h4v1.6h-4zM1029 343.7h3v1.6h-3zM1032 343h22v1.6h-22zM1054 345.2h27v1.6h-27zM1081 346.2h11v1.6h-11zM1092 347.2h12v1.6h-12zM1104 345.4h14v1.6h-14z"/><path fill="#fff" fill-opacity="0.5" d="M45 392h1.2v1h-1.2zM47.6 392h1.2v1h-1.2zM50.2 392h1.2v1h-1.2zM52.8 392h1.2v1h-1.2zM55.4 392h1.2v1h-1.2zM58 392h1.2v1h-1.2zM60.6 392h1.2v1h-1.2zM63.2 392h1.2v1h-1.2zM65.8 392h1.2v1h-1.2zM68.4 392h1.2v1h-1.2zM71 392h1.2v1h-1.2z"/><path fill="#ffe6dc" fill-opacity="0.8" d="M133 383.6h1.6v1.6h-1.6zM136.2 383.6h1.6v1.6h-1.6zM139.4 383.6h1.6v1.6h-1.6zM143.5 383.6h1.6v1.6h-1.6zM146.7 383.6h1.6v1.6h-1.6zM149.9 383.6h1.6v1.6h-1.6zM153.5 381.6h4v1.2h-4zM162 383.6h1.6v1.6h-1.6zM165.2 383.6h1.6v1.6h-1.6zM168.4 383.6h1.6v1.6h-1.6zM172.5 383.6h1.6v1.6h-1.6zM175.7 383.6h1.6v1.6h-1.6zM178.9 383.6h1.6v1.6h-1.6zM182.5 381.6h4v1.2h-4zM191 383.6h1.6v1.6h-1.6zM194.2 383.6h1.6v1.6h-1.6zM197.4 383.6h1.6v1.6h-1.6zM201.5 383.6h1.6v1.6h-1.6zM204.7 383.6h1.6v1.6h-1.6zM207.9 383.6h1.6v1.6h-1.6zM211.5 381.6h4v1.2h-4zM220.1 383.6h1.6v1.6h-1.6zM223.3 383.6h1.6v1.6h-1.6zM226.5 383.6h1.6v1.6h-1.6zM230.6 383.6h1.6v1.6h-1.6zM233.8 383.6h1.6v1.6h-1.6zM237 383.6h1.6v1.6h-1.6zM240.6 381.6h4v1.2h-4zM249.1 383.6h1.6v1.6h-1.6zM252.3 383.6h1.6v1.6h-1.6zM255.5 383.6h1.6v1.6h-1.6zM259.6 383.6h1.6v1.6h-1.6zM262.8 383.6h1.6v1.6h-1.6zM266 383.6h1.6v1.6h-1.6zM269.6 381.6h4v1.2h-4zM278.1 383.6h1.6v1.6h-1.6zM281.3 383.6h1.6v1.6h-1.6zM284.5 383.6h1.6v1.6h-1.6zM288.6 383.6h1.6v1.6h-1.6zM291.8 383.6h1.6v1.6h-1.6zM295 383.6h1.6v1.6h-1.6zM298.6 381.6h4v1.2h-4zM307.1 383.6h1.6v1.6h-1.6zM310.3 383.6h1.6v1.6h-1.6zM313.5 383.6h1.6v1.6h-1.6zM317.6 383.6h1.6v1.6h-1.6zM320.8 383.6h1.6v1.6h-1.6zM324 383.6h1.6v1.6h-1.6zM327.6 381.6h4v1.2h-4zM336.1 383.6h1.6v1.6h-1.6zM339.3 383.6h1.6v1.6h-1.6zM342.5 383.6h1.6v1.6h-1.6zM346.6 383.6h1.6v1.6h-1.6zM349.8 383.6h1.6v1.6h-1.6zM353 383.6h1.6v1.6h-1.6zM356.6 381.6h4v1.2h-4zM365.2 383.6h1.6v1.6h-1.6zM368.4 383.6h1.6v1.6h-1.6zM371.6 383.6h1.6v1.6h-1.6zM375.7 383.6h1.6v1.6h-1.6zM378.9 383.6h1.6v1.6h-1.6zM382.1 383.6h1.6v1.6h-1.6zM385.7 381.6h4v1.2h-4zM394.2 383.6h1.6v1.6h-1.6zM397.4 383.6h1.6v1.6h-1.6zM400.6 383.6h1.6v1.6h-1.6zM404.7 383.6h1.6v1.6h-1.6zM407.9 383.6h1.6v1.6h-1.6zM411.1 383.6h1.6v1.6h-1.6zM414.7 381.6h4v1.2h-4zM423.2 383.6h1.6v1.6h-1.6zM426.4 383.6h1.6v1.6h-1.6zM429.6 383.6h1.6v1.6h-1.6zM433.7 383.6h1.6v1.6h-1.6zM436.9 383.6h1.6v1.6h-1.6zM440.1 383.6h1.6v1.6h-1.6zM443.7 381.6h4v1.2h-4zM452.2 383.6h1.6v1.6h-1.6zM455.4 383.6h1.6v1.6h-1.6zM458.6 383.6h1.6v1.6h-1.6zM462.7 383.6h1.6v1.6h-1.6zM465.9 383.6h1.6v1.6h-1.6zM469.1 383.6h1.6v1.6h-1.6zM472.7 381.6h4v1.2h-4zM481.2 383.6h1.6v1.6h-1.6zM484.4 383.6h1.6v1.6h-1.6zM487.6 383.6h1.6v1.6h-1.6zM491.7 383.6h1.6v1.6h-1.6zM494.9 383.6h1.6v1.6h-1.6zM498.1 383.6h1.6v1.6h-1.6zM501.7 381.6h4v1.2h-4zM510.3 383.6h1.6v1.6h-1.6zM513.5 383.6h1.6v1.6h-1.6zM516.7 383.6h1.6v1.6h-1.6zM520.8 383.6h1.6v1.6h-1.6zM524 383.6h1.6v1.6h-1.6zM527.2 383.6h1.6v1.6h-1.6zM530.8 381.6h4v1.2h-4zM539.3 383.6h1.6v1.6h-1.6zM542.5 383.6h1.6v1.6h-1.6zM545.7 383.6h1.6v1.6h-1.6zM549.8 383.6h1.6v1.6h-1.6zM553 383.6h1.6v1.6h-1.6zM556.2 383.6h1.6v1.6h-1.6zM559.8 381.6h4v1.2h-4zM568.3 383.6h1.6v1.6h-1.6zM571.5 383.6h1.6v1.6h-1.6zM574.7 383.6h1.6v1.6h-1.6zM578.8 383.6h1.6v1.6h-1.6zM582 383.6h1.6v1.6h-1.6zM585.2 383.6h1.6v1.6h-1.6zM588.8 381.6h4v1.2h-4zM597.3 383.6h1.6v1.6h-1.6zM600.5 383.6h1.6v1.6h-1.6zM603.7 383.6h1.6v1.6h-1.6zM607.8 383.6h1.6v1.6h-1.6zM611 383.6h1.6v1.6h-1.6zM614.2 383.6h1.6v1.6h-1.6zM617.8 381.6h4v1.2h-4zM626.3 383.6h1.6v1.6h-1.6zM629.5 383.6h1.6v1.6h-1.6zM632.7 383.6h1.6v1.6h-1.6zM636.8 383.6h1.6v1.6h-1.6zM640 383.6h1.6v1.6h-1.6zM643.2 383.6h1.6v1.6h-1.6zM646.8 381.6h4v1.2h-4zM655.4 383.6h1.6v1.6h-1.6zM658.6 383.6h1.6v1.6h-1.6zM661.8 383.6h1.6v1.6h-1.6zM665.9 383.6h1.6v1.6h-1.6zM669.1 383.6h1.6v1.6h-1.6zM672.3 383.6h1.6v1.6h-1.6zM675.9 381.6h4v1.2h-4zM684.4 383.6h1.6v1.6h-1.6zM687.6 383.6h1.6v1.6h-1.6zM690.8 383.6h1.6v1.6h-1.6zM694.9 383.6h1.6v1.6h-1.6zM698.1 383.6h1.6v1.6h-1.6zM701.3 383.6h1.6v1.6h-1.6zM704.9 381.6h4v1.2h-4zM713.4 383.6h1.6v1.6h-1.6zM716.6 383.6h1.6v1.6h-1.6zM719.8 383.6h1.6v1.6h-1.6zM723.9 383.6h1.6v1.6h-1.6zM727.1 383.6h1.6v1.6h-1.6zM730.3 383.6h1.6v1.6h-1.6zM733.9 381.6h4v1.2h-4zM742.4 383.6h1.6v1.6h-1.6zM745.6 383.6h1.6v1.6h-1.6zM748.8 383.6h1.6v1.6h-1.6zM752.9 383.6h1.6v1.6h-1.6zM756.1 383.6h1.6v1.6h-1.6zM759.3 383.6h1.6v1.6h-1.6zM762.9 381.6h4v1.2h-4zM771.4 383.6h1.6v1.6h-1.6zM774.6 383.6h1.6v1.6h-1.6zM777.8 383.6h1.6v1.6h-1.6zM781.9 383.6h1.6v1.6h-1.6zM785.1 383.6h1.6v1.6h-1.6zM788.3 383.6h1.6v1.6h-1.6zM791.9 381.6h4v1.2h-4zM800.5 383.6h1.6v1.6h-1.6zM803.7 383.6h1.6v1.6h-1.6zM806.9 383.6h1.6v1.6h-1.6zM811 383.6h1.6v1.6h-1.6zM814.2 383.6h1.6v1.6h-1.6zM817.4 383.6h1.6v1.6h-1.6zM821 381.6h4v1.2h-4zM829.5 383.6h1.6v1.6h-1.6zM832.7 383.6h1.6v1.6h-1.6zM835.9 383.6h1.6v1.6h-1.6zM840 383.6h1.6v1.6h-1.6zM843.2 383.6h1.6v1.6h-1.6zM846.4 383.6h1.6v1.6h-1.6zM850 381.6h4v1.2h-4zM858.5 383.6h1.6v1.6h-1.6zM861.7 383.6h1.6v1.6h-1.6zM864.9 383.6h1.6v1.6h-1.6zM869 383.6h1.6v1.6h-1.6zM872.2 383.6h1.6v1.6h-1.6zM875.4 383.6h1.6v1.6h-1.6zM879 381.6h4v1.2h-4zM133 393.8h1.4v1.4h-1.4zM136.6 393.8h1.4v1.4h-1.4zM140.2 393.8h1.4v1.4h-1.4zM143.8 393.8h1.4v1.4h-1.4zM147.4 393.8h1.4v1.4h-1.4zM151 393.8h1.4v1.4h-1.4zM154.6 393.8h1.4v1.4h-1.4zM158.2 393.8h1.4v1.4h-1.4zM161.8 393.8h1.4v1.4h-1.4zM165.4 393.8h1.4v1.4h-1.4zM169 393.8h1.4v1.4h-1.4zM172.6 393.8h1.4v1.4h-1.4zM176.2 393.8h1.4v1.4h-1.4zM179.8 393.8h1.4v1.4h-1.4zM183.4 393.8h1.4v1.4h-1.4zM187 393.8h1.4v1.4h-1.4zM190.6 393.8h1.4v1.4h-1.4zM194.2 393.8h1.4v1.4h-1.4zM197.8 393.8h1.4v1.4h-1.4zM201.4 393.8h1.4v1.4h-1.4zM205 393.8h1.4v1.4h-1.4zM208.6 393.8h1.4v1.4h-1.4zM212.2 393.8h1.4v1.4h-1.4zM215.8 393.8h1.4v1.4h-1.4zM219.4 393.8h1.4v1.4h-1.4zM223 393.8h1.4v1.4h-1.4zM226.6 393.8h1.4v1.4h-1.4zM230.2 393.8h1.4v1.4h-1.4zM233.8 393.8h1.4v1.4h-1.4zM237.4 393.8h1.4v1.4h-1.4zM241 393.8h1.4v1.4h-1.4zM244.6 393.8h1.4v1.4h-1.4zM248.2 393.8h1.4v1.4h-1.4zM251.8 393.8h1.4v1.4h-1.4zM255.4 393.8h1.4v1.4h-1.4zM259 393.8h1.4v1.4h-1.4zM262.6 393.8h1.4v1.4h-1.4zM266.2 393.8h1.4v1.4h-1.4zM269.8 393.8h1.4v1.4h-1.4zM273.4 393.8h1.4v1.4h-1.4zM277 393.8h1.4v1.4h-1.4zM280.6 393.8h1.4v1.4h-1.4zM284.2 393.8h1.4v1.4h-1.4zM287.8 393.8h1.4v1.4h-1.4zM291.4 393.8h1.4v1.4h-1.4zM295 393.8h1.4v1.4h-1.4zM298.6 393.8h1.4v1.4h-1.4zM302.2 393.8h1.4v1.4h-1.4zM305.8 393.8h1.4v1.4h-1.4zM309.4 393.8h1.4v1.4h-1.4zM313 393.8h1.4v1.4h-1.4zM316.6 393.8h1.4v1.4h-1.4zM320.2 393.8h1.4v1.4h-1.4zM323.8 393.8h1.4v1.4h-1.4zM327.4 393.8h1.4v1.4h-1.4zM331 393.8h1.4v1.4h-1.4zM334.6 393.8h1.4v1.4h-1.4zM338.2 393.8h1.4v1.4h-1.4zM341.8 393.8h1.4v1.4h-1.4zM345.4 393.8h1.4v1.4h-1.4zM349 393.8h1.4v1.4h-1.4zM352.6 393.8h1.4v1.4h-1.4zM356.2 393.8h1.4v1.4h-1.4zM359.8 393.8h1.4v1.4h-1.4zM363.4 393.8h1.4v1.4h-1.4zM367 393.8h1.4v1.4h-1.4zM370.6 393.8h1.4v1.4h-1.4zM374.2 393.8h1.4v1.4h-1.4zM377.8 393.8h1.4v1.4h-1.4zM381.4 393.8h1.4v1.4h-1.4zM385 393.8h1.4v1.4h-1.4zM388.6 393.8h1.4v1.4h-1.4zM392.2 393.8h1.4v1.4h-1.4zM395.8 393.8h1.4v1.4h-1.4zM399.4 393.8h1.4v1.4h-1.4zM403 393.8h1.4v1.4h-1.4zM406.6 393.8h1.4v1.4h-1.4zM410.2 393.8h1.4v1.4h-1.4zM413.8 393.8h1.4v1.4h-1.4zM417.4 393.8h1.4v1.4h-1.4zM421 393.8h1.4v1.4h-1.4zM424.6 393.8h1.4v1.4h-1.4zM428.2 393.8h1.4v1.4h-1.4zM431.8 393.8h1.4v1.4h-1.4zM435.4 393.8h1.4v1.4h-1.4zM439 393.8h1.4v1.4h-1.4zM442.6 393.8h1.4v1.4h-1.4zM446.2 393.8h1.4v1.4h-1.4zM449.8 393.8h1.4v1.4h-1.4zM453.4 393.8h1.4v1.4h-1.4zM457 393.8h1.4v1.4h-1.4zM460.6 393.8h1.4v1.4h-1.4zM464.2 393.8h1.4v1.4h-1.4zM467.8 393.8h1.4v1.4h-1.4zM471.4 393.8h1.4v1.4h-1.4zM475 393.8h1.4v1.4h-1.4zM478.6 393.8h1.4v1.4h-1.4zM482.2 393.8h1.4v1.4h-1.4zM485.8 393.8h1.4v1.4h-1.4zM489.4 393.8h1.4v1.4h-1.4zM493 393.8h1.4v1.4h-1.4zM496.6 393.8h1.4v1.4h-1.4zM500.2 393.8h1.4v1.4h-1.4zM503.8 393.8h1.4v1.4h-1.4zM507.4 393.8h1.4v1.4h-1.4zM511 393.8h1.4v1.4h-1.4zM514.6 393.8h1.4v1.4h-1.4zM518.2 393.8h1.4v1.4h-1.4zM521.8 393.8h1.4v1.4h-1.4zM525.4 393.8h1.4v1.4h-1.4zM529 393.8h1.4v1.4h-1.4zM532.6 393.8h1.4v1.4h-1.4zM536.2 393.8h1.4v1.4h-1.4zM539.8 393.8h1.4v1.4h-1.4zM543.4 393.8h1.4v1.4h-1.4zM547 393.8h1.4v1.4h-1.4zM550.6 393.8h1.4v1.4h-1.4zM554.2 393.8h1.4v1.4h-1.4zM557.8 393.8h1.4v1.4h-1.4zM561.4 393.8h1.4v1.4h-1.4zM565 393.8h1.4v1.4h-1.4zM568.6 393.8h1.4v1.4h-1.4zM572.2 393.8h1.4v1.4h-1.4zM575.8 393.8h1.4v1.4h-1.4zM579.4 393.8h1.4v1.4h-1.4zM583 393.8h1.4v1.4h-1.4zM586.6 393.8h1.4v1.4h-1.4zM590.2 393.8h1.4v1.4h-1.4zM593.8 393.8h1.4v1.4h-1.4zM597.4 393.8h1.4v1.4h-1.4zM601 393.8h1.4v1.4h-1.4zM604.6 393.8h1.4v1.4h-1.4zM608.2 393.8h1.4v1.4h-1.4zM611.8 393.8h1.4v1.4h-1.4zM615.4 393.8h1.4v1.4h-1.4zM619 393.8h1.4v1.4h-1.4zM622.6 393.8h1.4v1.4h-1.4zM626.2 393.8h1.4v1.4h-1.4zM629.8 393.8h1.4v1.4h-1.4zM633.4 393.8h1.4v1.4h-1.4zM637 393.8h1.4v1.4h-1.4zM640.6 393.8h1.4v1.4h-1.4zM644.2 393.8h1.4v1.4h-1.4zM647.8 393.8h1.4v1.4h-1.4zM651.4 393.8h1.4v1.4h-1.4zM655 393.8h1.4v1.4h-1.4zM658.6 393.8h1.4v1.4h-1.4zM662.2 393.8h1.4v1.4h-1.4zM665.8 393.8h1.4v1.4h-1.4zM669.4 393.8h1.4v1.4h-1.4zM673 393.8h1.4v1.4h-1.4zM676.6 393.8h1.4v1.4h-1.4zM680.2 393.8h1.4v1.4h-1.4zM683.8 393.8h1.4v1.4h-1.4zM687.4 393.8h1.4v1.4h-1.4zM691 393.8h1.4v1.4h-1.4zM694.6 393.8h1.4v1.4h-1.4zM698.2 393.8h1.4v1.4h-1.4zM701.8 393.8h1.4v1.4h-1.4zM705.4 393.8h1.4v1.4h-1.4zM709 393.8h1.4v1.4h-1.4zM712.6 393.8h1.4v1.4h-1.4zM716.2 393.8h1.4v1.4h-1.4zM719.8 393.8h1.4v1.4h-1.4zM723.4 393.8h1.4v1.4h-1.4zM727 393.8h1.4v1.4h-1.4zM730.6 393.8h1.4v1.4h-1.4zM734.2 393.8h1.4v1.4h-1.4zM737.8 393.8h1.4v1.4h-1.4zM741.4 393.8h1.4v1.4h-1.4zM745 393.8h1.4v1.4h-1.4zM748.6 393.8h1.4v1.4h-1.4zM752.2 393.8h1.4v1.4h-1.4zM755.8 393.8h1.4v1.4h-1.4zM759.4 393.8h1.4v1.4h-1.4zM763 393.8h1.4v1.4h-1.4zM766.6 393.8h1.4v1.4h-1.4zM770.2 393.8h1.4v1.4h-1.4zM773.8 393.8h1.4v1.4h-1.4zM777.4 393.8h1.4v1.4h-1.4zM781 393.8h1.4v1.4h-1.4zM784.6 393.8h1.4v1.4h-1.4zM788.2 393.8h1.4v1.4h-1.4zM791.8 393.8h1.4v1.4h-1.4zM795.4 393.8h1.4v1.4h-1.4zM799 393.8h1.4v1.4h-1.4zM802.6 393.8h1.4v1.4h-1.4zM806.2 393.8h1.4v1.4h-1.4zM809.8 393.8h1.4v1.4h-1.4zM813.4 393.8h1.4v1.4h-1.4zM817 393.8h1.4v1.4h-1.4zM820.6 393.8h1.4v1.4h-1.4zM824.2 393.8h1.4v1.4h-1.4zM827.8 393.8h1.4v1.4h-1.4zM831.4 393.8h1.4v1.4h-1.4zM835 393.8h1.4v1.4h-1.4zM838.6 393.8h1.4v1.4h-1.4zM842.2 393.8h1.4v1.4h-1.4zM845.8 393.8h1.4v1.4h-1.4zM849.4 393.8h1.4v1.4h-1.4zM853 393.8h1.4v1.4h-1.4zM856.6 393.8h1.4v1.4h-1.4zM860.2 393.8h1.4v1.4h-1.4zM863.8 393.8h1.4v1.4h-1.4zM867.4 393.8h1.4v1.4h-1.4zM871 393.8h1.4v1.4h-1.4zM874.6 393.8h1.4v1.4h-1.4zM878.2 393.8h1.4v1.4h-1.4zM881.8 393.8h1.4v1.4h-1.4zM1118 383.6h1.6v1.6h-1.6zM1121.2 383.6h1.6v1.6h-1.6zM1124.4 383.6h1.6v1.6h-1.6zM1128.5 383.6h1.6v1.6h-1.6zM1131.7 383.6h1.6v1.6h-1.6zM1134.9 383.6h1.6v1.6h-1.6zM1138.5 381.6h4v1.2h-4zM1147 383.6h1.6v1.6h-1.6zM1150.2 383.6h1.6v1.6h-1.6zM1153.4 383.6h1.6v1.6h-1.6zM1157.5 383.6h1.6v1.6h-1.6zM1160.7 383.6h1.6v1.6h-1.6zM1163.9 383.6h1.6v1.6h-1.6zM1167.5 381.6h4v1.2h-4zM1176 383.6h1.6v1.6h-1.6zM1179.2 383.6h1.6v1.6h-1.6zM1182.4 383.6h1.6v1.6h-1.6zM1186.5 383.6h1.6v1.6h-1.6zM1189.7 383.6h1.6v1.6h-1.6zM1192.9 383.6h1.6v1.6h-1.6zM1196.5 381.6h4v1.2h-4zM1205.1 383.6h1.6v1.6h-1.6zM1208.3 383.6h1.6v1.6h-1.6zM1211.5 383.6h1.6v1.6h-1.6zM1215.6 383.6h1.6v1.6h-1.6zM1218.8 383.6h1.6v1.6h-1.6zM1222 383.6h1.6v1.6h-1.6zM1225.6 381.6h4v1.2h-4zM1234.1 383.6h1.6v1.6h-1.6zM1237.3 383.6h1.6v1.6h-1.6zM1240.5 383.6h1.6v1.6h-1.6zM1244.6 383.6h1.6v1.6h-1.6zM1247.8 383.6h1.6v1.6h-1.6zM1251 383.6h1.6v1.6h-1.6zM1254.6 381.6h4v1.2h-4zM1263.1 383.6h1.6v1.6h-1.6zM1266.3 383.6h1.6v1.6h-1.6zM1269.5 383.6h1.6v1.6h-1.6zM1273.6 383.6h1.6v1.6h-1.6zM1276.8 383.6h1.6v1.6h-1.6zM1280 383.6h1.6v1.6h-1.6zM1283.6 381.6h4v1.2h-4zM1292.1 383.6h1.6v1.6h-1.6zM1295.3 383.6h1.6v1.6h-1.6zM1298.5 383.6h1.6v1.6h-1.6zM1302.6 383.6h1.6v1.6h-1.6zM1305.8 383.6h1.6v1.6h-1.6zM1309 383.6h1.6v1.6h-1.6zM1312.6 381.6h4v1.2h-4zM1321.1 383.6h1.6v1.6h-1.6zM1324.3 383.6h1.6v1.6h-1.6zM1327.5 383.6h1.6v1.6h-1.6zM1331.6 383.6h1.6v1.6h-1.6zM1334.8 383.6h1.6v1.6h-1.6zM1338 383.6h1.6v1.6h-1.6zM1341.6 381.6h4v1.2h-4zM1350.2 383.6h1.6v1.6h-1.6zM1353.4 383.6h1.6v1.6h-1.6zM1356.6 383.6h1.6v1.6h-1.6zM1360.7 383.6h1.6v1.6h-1.6zM1363.9 383.6h1.6v1.6h-1.6zM1367.1 383.6h1.6v1.6h-1.6zM1370.7 381.6h4v1.2h-4zM1379.2 383.6h1.6v1.6h-1.6zM1382.4 383.6h1.6v1.6h-1.6zM1385.6 383.6h1.6v1.6h-1.6zM1389.7 383.6h1.6v1.6h-1.6zM1392.9 383.6h1.6v1.6h-1.6zM1396.1 383.6h1.6v1.6h-1.6zM1399.7 381.6h4v1.2h-4zM1408.2 383.6h1.6v1.6h-1.6zM1411.4 383.6h1.6v1.6h-1.6zM1414.6 383.6h1.6v1.6h-1.6zM1418.7 383.6h1.6v1.6h-1.6zM1421.9 383.6h1.6v1.6h-1.6zM1425.1 383.6h1.6v1.6h-1.6zM1428.7 381.6h4v1.2h-4zM1118 393.8h1.4v1.4h-1.4zM1121.6 393.8h1.4v1.4h-1.4zM1125.2 393.8h1.4v1.4h-1.4zM1128.8 393.8h1.4v1.4h-1.4zM1132.4 393.8h1.4v1.4h-1.4zM1136 393.8h1.4v1.4h-1.4zM1139.6 393.8h1.4v1.4h-1.4zM1143.2 393.8h1.4v1.4h-1.4zM1146.8 393.8h1.4v1.4h-1.4zM1150.4 393.8h1.4v1.4h-1.4zM1154 393.8h1.4v1.4h-1.4zM1157.6 393.8h1.4v1.4h-1.4zM1161.2 393.8h1.4v1.4h-1.4zM1164.8 393.8h1.4v1.4h-1.4zM1168.4 393.8h1.4v1.4h-1.4zM1172 393.8h1.4v1.4h-1.4zM1175.6 393.8h1.4v1.4h-1.4zM1179.2 393.8h1.4v1.4h-1.4zM1182.8 393.8h1.4v1.4h-1.4zM1186.4 393.8h1.4v1.4h-1.4zM1190 393.8h1.4v1.4h-1.4zM1193.6 393.8h1.4v1.4h-1.4zM1197.2 393.8h1.4v1.4h-1.4zM1200.8 393.8h1.4v1.4h-1.4zM1204.4 393.8h1.4v1.4h-1.4zM1208 393.8h1.4v1.4h-1.4zM1211.6 393.8h1.4v1.4h-1.4zM1215.2 393.8h1.4v1.4h-1.4zM1218.8 393.8h1.4v1.4h-1.4zM1222.4 393.8h1.4v1.4h-1.4zM1226 393.8h1.4v1.4h-1.4zM1229.6 393.8h1.4v1.4h-1.4zM1233.2 393.8h1.4v1.4h-1.4zM1236.8 393.8h1.4v1.4h-1.4zM1240.4 393.8h1.4v1.4h-1.4zM1244 393.8h1.4v1.4h-1.4zM1247.6 393.8h1.4v1.4h-1.4zM1251.2 393.8h1.4v1.4h-1.4zM1254.8 393.8h1.4v1.4h-1.4zM1258.4 393.8h1.4v1.4h-1.4zM1262 393.8h1.4v1.4h-1.4zM1265.6 393.8h1.4v1.4h-1.4zM1269.2 393.8h1.4v1.4h-1.4zM1272.8 393.8h1.4v1.4h-1.4zM1276.4 393.8h1.4v1.4h-1.4zM1280 393.8h1.4v1.4h-1.4zM1283.6 393.8h1.4v1.4h-1.4zM1287.2 393.8h1.4v1.4h-1.4zM1290.8 393.8h1.4v1.4h-1.4zM1294.4 393.8h1.4v1.4h-1.4zM1298 393.8h1.4v1.4h-1.4zM1301.6 393.8h1.4v1.4h-1.4zM1305.2 393.8h1.4v1.4h-1.4zM1308.8 393.8h1.4v1.4h-1.4zM1312.4 393.8h1.4v1.4h-1.4zM1316 393.8h1.4v1.4h-1.4zM1319.6 393.8h1.4v1.4h-1.4zM1323.2 393.8h1.4v1.4h-1.4zM1326.8 393.8h1.4v1.4h-1.4zM1330.4 393.8h1.4v1.4h-1.4zM1334 393.8h1.4v1.4h-1.4zM1337.6 393.8h1.4v1.4h-1.4zM1341.2 393.8h1.4v1.4h-1.4zM1344.8 393.8h1.4v1.4h-1.4zM1348.4 393.8h1.4v1.4h-1.4zM1352 393.8h1.4v1.4h-1.4zM1355.6 393.8h1.4v1.4h-1.4zM1359.2 393.8h1.4v1.4h-1.4zM1362.8 393.8h1.4v1.4h-1.4zM1366.4 393.8h1.4v1.4h-1.4zM1370 393.8h1.4v1.4h-1.4zM1373.6 393.8h1.4v1.4h-1.4zM1377.2 393.8h1.4v1.4h-1.4zM1380.8 393.8h1.4v1.4h-1.4zM1384.4 393.8h1.4v1.4h-1.4zM1388 393.8h1.4v1.4h-1.4zM1391.6 393.8h1.4v1.4h-1.4zM1395.2 393.8h1.4v1.4h-1.4zM1398.8 393.8h1.4v1.4h-1.4zM1402.4 393.8h1.4v1.4h-1.4zM1406 393.8h1.4v1.4h-1.4zM1409.6 393.8h1.4v1.4h-1.4zM1413.2 393.8h1.4v1.4h-1.4zM1416.8 393.8h1.4v1.4h-1.4zM1420.4 393.8h1.4v1.4h-1.4zM1424 393.8h1.4v1.4h-1.4zM1427.6 393.8h1.4v1.4h-1.4zM1431.2 393.8h1.4v1.4h-1.4zM1434.8 393.8h1.4v1.4h-1.4zM1438.4 393.8h1.4v1.4h-1.4zM1442 393.8h1.4v1.4h-1.4zM1445.6 393.8h1.4v1.4h-1.4zM1449.2 393.8h1.4v1.4h-1.4z"/><path fill="#ffe6dc" fill-opacity="0.85" d="M133 386.2h8.6v1.4h-8.6zM143.5 386.2h8.6v1.4h-8.6zM162 386.2h8.6v1.4h-8.6zM172.5 386.2h8.6v1.4h-8.6zM191 386.2h8.6v1.4h-8.6zM201.5 386.2h8.6v1.4h-8.6zM220.1 386.2h8.6v1.4h-8.6zM230.6 386.2h8.6v1.4h-8.6zM249.1 386.2h8.6v1.4h-8.6zM259.6 386.2h8.6v1.4h-8.6zM278.1 386.2h8.6v1.4h-8.6zM288.6 386.2h8.6v1.4h-8.6zM307.1 386.2h8.6v1.4h-8.6zM317.6 386.2h8.6v1.4h-8.6zM336.1 386.2h8.6v1.4h-8.6zM346.6 386.2h8.6v1.4h-8.6zM365.2 386.2h8.6v1.4h-8.6zM375.7 386.2h8.6v1.4h-8.6zM394.2 386.2h8.6v1.4h-8.6zM404.7 386.2h8.6v1.4h-8.6zM423.2 386.2h8.6v1.4h-8.6zM433.7 386.2h8.6v1.4h-8.6zM452.2 386.2h8.6v1.4h-8.6zM462.7 386.2h8.6v1.4h-8.6zM481.2 386.2h8.6v1.4h-8.6zM491.7 386.2h8.6v1.4h-8.6zM510.3 386.2h8.6v1.4h-8.6zM520.8 386.2h8.6v1.4h-8.6zM539.3 386.2h8.6v1.4h-8.6zM549.8 386.2h8.6v1.4h-8.6zM568.3 386.2h8.6v1.4h-8.6zM578.8 386.2h8.6v1.4h-8.6zM597.3 386.2h8.6v1.4h-8.6zM607.8 386.2h8.6v1.4h-8.6zM626.3 386.2h8.6v1.4h-8.6zM636.8 386.2h8.6v1.4h-8.6zM655.4 386.2h8.6v1.4h-8.6zM665.9 386.2h8.6v1.4h-8.6zM684.4 386.2h8.6v1.4h-8.6zM694.9 386.2h8.6v1.4h-8.6zM713.4 386.2h8.6v1.4h-8.6zM723.9 386.2h8.6v1.4h-8.6zM742.4 386.2h8.6v1.4h-8.6zM752.9 386.2h8.6v1.4h-8.6zM771.4 386.2h8.6v1.4h-8.6zM781.9 386.2h8.6v1.4h-8.6zM800.5 386.2h8.6v1.4h-8.6zM811 386.2h8.6v1.4h-8.6zM829.5 386.2h8.6v1.4h-8.6zM840 386.2h8.6v1.4h-8.6zM858.5 386.2h8.6v1.4h-8.6zM869 386.2h8.6v1.4h-8.6zM1118 386.2h8.6v1.4h-8.6zM1128.5 386.2h8.6v1.4h-8.6zM1147 386.2h8.6v1.4h-8.6zM1157.5 386.2h8.6v1.4h-8.6zM1176 386.2h8.6v1.4h-8.6zM1186.5 386.2h8.6v1.4h-8.6zM1205.1 386.2h8.6v1.4h-8.6zM1215.6 386.2h8.6v1.4h-8.6zM1234.1 386.2h8.6v1.4h-8.6zM1244.6 386.2h8.6v1.4h-8.6zM1263.1 386.2h8.6v1.4h-8.6zM1273.6 386.2h8.6v1.4h-8.6zM1292.1 386.2h8.6v1.4h-8.6zM1302.6 386.2h8.6v1.4h-8.6zM1321.1 386.2h8.6v1.4h-8.6zM1331.6 386.2h8.6v1.4h-8.6zM1350.2 386.2h8.6v1.4h-8.6zM1360.7 386.2h8.6v1.4h-8.6zM1379.2 386.2h8.6v1.4h-8.6zM1389.7 386.2h8.6v1.4h-8.6zM1408.2 386.2h8.6v1.4h-8.6zM1418.7 386.2h8.6v1.4h-8.6z"/><path fill="#ffe6dc" fill-opacity="0.7" d="M152.5 385h2v1.4h-2zM181.5 385h2v1.4h-2zM210.5 385h2v1.4h-2zM239.6 385h2v1.4h-2zM268.6 385h2v1.4h-2zM297.6 385h2v1.4h-2zM326.6 385h2v1.4h-2zM355.6 385h2v1.4h-2zM384.7 385h2v1.4h-2zM413.7 385h2v1.4h-2zM442.7 385h2v1.4h-2zM471.7 385h2v1.4h-2zM500.7 385h2v1.4h-2zM529.8 385h2v1.4h-2zM558.8 385h2v1.4h-2zM587.8 385h2v1.4h-2zM616.8 385h2v1.4h-2zM645.8 385h2v1.4h-2zM674.9 385h2v1.4h-2zM703.9 385h2v1.4h-2zM732.9 385h2v1.4h-2zM761.9 385h2v1.4h-2zM790.9 385h2v1.4h-2zM820 385h2v1.4h-2zM849 385h2v1.4h-2zM878 385h2v1.4h-2zM1137.5 385h2v1.4h-2zM1166.5 385h2v1.4h-2zM1195.5 385h2v1.4h-2zM1224.6 385h2v1.4h-2zM1253.6 385h2v1.4h-2zM1282.6 385h2v1.4h-2zM1311.6 385h2v1.4h-2zM1340.6 385h2v1.4h-2zM1369.7 385h2v1.4h-2zM1398.7 385h2v1.4h-2zM1427.7 385h2v1.4h-2z"/><path fill="#ffe6dc" fill-opacity="0.75" d="M133 390.6h1.4v1.3h-1.4zM136.6 396.7h1.4v1.3h-1.4zM140.2 390.6h1.4v1.3h-1.4zM143.8 396.7h1.4v1.3h-1.4zM147.4 390.6h1.4v1.3h-1.4zM151 396.7h1.4v1.3h-1.4zM154.6 390.6h1.4v1.3h-1.4zM158.2 396.7h1.4v1.3h-1.4zM161.8 390.6h1.4v1.3h-1.4zM165.4 396.7h1.4v1.3h-1.4zM169 390.6h1.4v1.3h-1.4zM172.6 396.7h1.4v1.3h-1.4zM176.2 390.6h1.4v1.3h-1.4zM179.8 396.7h1.4v1.3h-1.4zM183.4 390.6h1.4v1.3h-1.4zM187 396.7h1.4v1.3h-1.4zM190.6 390.6h1.4v1.3h-1.4zM194.2 396.7h1.4v1.3h-1.4zM197.8 390.6h1.4v1.3h-1.4zM201.4 396.7h1.4v1.3h-1.4zM205 390.6h1.4v1.3h-1.4zM208.6 396.7h1.4v1.3h-1.4zM212.2 390.6h1.4v1.3h-1.4zM215.8 396.7h1.4v1.3h-1.4zM219.4 390.6h1.4v1.3h-1.4zM223 396.7h1.4v1.3h-1.4zM226.6 390.6h1.4v1.3h-1.4zM230.2 396.7h1.4v1.3h-1.4zM233.8 390.6h1.4v1.3h-1.4zM237.4 396.7h1.4v1.3h-1.4zM241 390.6h1.4v1.3h-1.4zM244.6 396.7h1.4v1.3h-1.4zM248.2 390.6h1.4v1.3h-1.4zM251.8 396.7h1.4v1.3h-1.4zM255.4 390.6h1.4v1.3h-1.4zM259 396.7h1.4v1.3h-1.4zM262.6 390.6h1.4v1.3h-1.4zM266.2 396.7h1.4v1.3h-1.4zM269.8 390.6h1.4v1.3h-1.4zM273.4 396.7h1.4v1.3h-1.4zM277 390.6h1.4v1.3h-1.4zM280.6 396.7h1.4v1.3h-1.4zM284.2 390.6h1.4v1.3h-1.4zM287.8 396.7h1.4v1.3h-1.4zM291.4 390.6h1.4v1.3h-1.4zM295 396.7h1.4v1.3h-1.4zM298.6 390.6h1.4v1.3h-1.4zM302.2 396.7h1.4v1.3h-1.4zM305.8 390.6h1.4v1.3h-1.4zM309.4 396.7h1.4v1.3h-1.4zM313 390.6h1.4v1.3h-1.4zM316.6 396.7h1.4v1.3h-1.4zM320.2 390.6h1.4v1.3h-1.4zM323.8 396.7h1.4v1.3h-1.4zM327.4 390.6h1.4v1.3h-1.4zM331 396.7h1.4v1.3h-1.4zM334.6 390.6h1.4v1.3h-1.4zM338.2 396.7h1.4v1.3h-1.4zM341.8 390.6h1.4v1.3h-1.4zM345.4 396.7h1.4v1.3h-1.4zM349 390.6h1.4v1.3h-1.4zM352.6 396.7h1.4v1.3h-1.4zM356.2 390.6h1.4v1.3h-1.4zM359.8 396.7h1.4v1.3h-1.4zM363.4 390.6h1.4v1.3h-1.4zM367 396.7h1.4v1.3h-1.4zM370.6 390.6h1.4v1.3h-1.4zM374.2 396.7h1.4v1.3h-1.4zM377.8 390.6h1.4v1.3h-1.4zM381.4 396.7h1.4v1.3h-1.4zM385 390.6h1.4v1.3h-1.4zM388.6 396.7h1.4v1.3h-1.4zM392.2 390.6h1.4v1.3h-1.4zM395.8 396.7h1.4v1.3h-1.4zM399.4 390.6h1.4v1.3h-1.4zM403 396.7h1.4v1.3h-1.4zM406.6 390.6h1.4v1.3h-1.4zM410.2 396.7h1.4v1.3h-1.4zM413.8 390.6h1.4v1.3h-1.4zM417.4 396.7h1.4v1.3h-1.4zM421 390.6h1.4v1.3h-1.4zM424.6 396.7h1.4v1.3h-1.4zM428.2 390.6h1.4v1.3h-1.4zM431.8 396.7h1.4v1.3h-1.4zM435.4 390.6h1.4v1.3h-1.4zM439 396.7h1.4v1.3h-1.4zM442.6 390.6h1.4v1.3h-1.4zM446.2 396.7h1.4v1.3h-1.4zM449.8 390.6h1.4v1.3h-1.4zM453.4 396.7h1.4v1.3h-1.4zM457 390.6h1.4v1.3h-1.4zM460.6 396.7h1.4v1.3h-1.4zM464.2 390.6h1.4v1.3h-1.4zM467.8 396.7h1.4v1.3h-1.4zM471.4 390.6h1.4v1.3h-1.4zM475 396.7h1.4v1.3h-1.4zM478.6 390.6h1.4v1.3h-1.4zM482.2 396.7h1.4v1.3h-1.4zM485.8 390.6h1.4v1.3h-1.4zM489.4 396.7h1.4v1.3h-1.4zM493 390.6h1.4v1.3h-1.4zM496.6 396.7h1.4v1.3h-1.4zM500.2 390.6h1.4v1.3h-1.4zM503.8 396.7h1.4v1.3h-1.4zM507.4 390.6h1.4v1.3h-1.4zM511 396.7h1.4v1.3h-1.4zM514.6 390.6h1.4v1.3h-1.4zM518.2 396.7h1.4v1.3h-1.4zM521.8 390.6h1.4v1.3h-1.4zM525.4 396.7h1.4v1.3h-1.4zM529 390.6h1.4v1.3h-1.4zM532.6 396.7h1.4v1.3h-1.4zM536.2 390.6h1.4v1.3h-1.4zM539.8 396.7h1.4v1.3h-1.4zM543.4 390.6h1.4v1.3h-1.4zM547 396.7h1.4v1.3h-1.4zM550.6 390.6h1.4v1.3h-1.4zM554.2 396.7h1.4v1.3h-1.4zM557.8 390.6h1.4v1.3h-1.4zM561.4 396.7h1.4v1.3h-1.4zM565 390.6h1.4v1.3h-1.4zM568.6 396.7h1.4v1.3h-1.4zM572.2 390.6h1.4v1.3h-1.4zM575.8 396.7h1.4v1.3h-1.4zM579.4 390.6h1.4v1.3h-1.4zM583 396.7h1.4v1.3h-1.4zM586.6 390.6h1.4v1.3h-1.4zM590.2 396.7h1.4v1.3h-1.4zM593.8 390.6h1.4v1.3h-1.4zM597.4 396.7h1.4v1.3h-1.4zM601 390.6h1.4v1.3h-1.4zM604.6 396.7h1.4v1.3h-1.4zM608.2 390.6h1.4v1.3h-1.4zM611.8 396.7h1.4v1.3h-1.4zM615.4 390.6h1.4v1.3h-1.4zM619 396.7h1.4v1.3h-1.4zM622.6 390.6h1.4v1.3h-1.4zM626.2 396.7h1.4v1.3h-1.4zM629.8 390.6h1.4v1.3h-1.4zM633.4 396.7h1.4v1.3h-1.4zM637 390.6h1.4v1.3h-1.4zM640.6 396.7h1.4v1.3h-1.4zM644.2 390.6h1.4v1.3h-1.4zM647.8 396.7h1.4v1.3h-1.4zM651.4 390.6h1.4v1.3h-1.4zM655 396.7h1.4v1.3h-1.4zM658.6 390.6h1.4v1.3h-1.4zM662.2 396.7h1.4v1.3h-1.4zM665.8 390.6h1.4v1.3h-1.4zM669.4 396.7h1.4v1.3h-1.4zM673 390.6h1.4v1.3h-1.4zM676.6 396.7h1.4v1.3h-1.4zM680.2 390.6h1.4v1.3h-1.4zM683.8 396.7h1.4v1.3h-1.4zM687.4 390.6h1.4v1.3h-1.4zM691 396.7h1.4v1.3h-1.4zM694.6 390.6h1.4v1.3h-1.4zM698.2 396.7h1.4v1.3h-1.4zM701.8 390.6h1.4v1.3h-1.4zM705.4 396.7h1.4v1.3h-1.4zM709 390.6h1.4v1.3h-1.4zM712.6 396.7h1.4v1.3h-1.4zM716.2 390.6h1.4v1.3h-1.4zM719.8 396.7h1.4v1.3h-1.4zM723.4 390.6h1.4v1.3h-1.4zM727 396.7h1.4v1.3h-1.4zM730.6 390.6h1.4v1.3h-1.4zM734.2 396.7h1.4v1.3h-1.4zM737.8 390.6h1.4v1.3h-1.4zM741.4 396.7h1.4v1.3h-1.4zM745 390.6h1.4v1.3h-1.4zM748.6 396.7h1.4v1.3h-1.4zM752.2 390.6h1.4v1.3h-1.4zM755.8 396.7h1.4v1.3h-1.4zM759.4 390.6h1.4v1.3h-1.4zM763 396.7h1.4v1.3h-1.4zM766.6 390.6h1.4v1.3h-1.4zM770.2 396.7h1.4v1.3h-1.4zM773.8 390.6h1.4v1.3h-1.4zM777.4 396.7h1.4v1.3h-1.4zM781 390.6h1.4v1.3h-1.4zM784.6 396.7h1.4v1.3h-1.4zM788.2 390.6h1.4v1.3h-1.4zM791.8 396.7h1.4v1.3h-1.4zM795.4 390.6h1.4v1.3h-1.4zM799 396.7h1.4v1.3h-1.4zM802.6 390.6h1.4v1.3h-1.4zM806.2 396.7h1.4v1.3h-1.4zM809.8 390.6h1.4v1.3h-1.4zM813.4 396.7h1.4v1.3h-1.4zM817 390.6h1.4v1.3h-1.4zM820.6 396.7h1.4v1.3h-1.4zM824.2 390.6h1.4v1.3h-1.4zM827.8 396.7h1.4v1.3h-1.4zM831.4 390.6h1.4v1.3h-1.4zM835 396.7h1.4v1.3h-1.4zM838.6 390.6h1.4v1.3h-1.4zM842.2 396.7h1.4v1.3h-1.4zM845.8 390.6h1.4v1.3h-1.4zM849.4 396.7h1.4v1.3h-1.4zM853 390.6h1.4v1.3h-1.4zM856.6 396.7h1.4v1.3h-1.4zM860.2 390.6h1.4v1.3h-1.4zM863.8 396.7h1.4v1.3h-1.4zM867.4 390.6h1.4v1.3h-1.4zM871 396.7h1.4v1.3h-1.4zM874.6 390.6h1.4v1.3h-1.4zM878.2 396.7h1.4v1.3h-1.4zM881.8 390.6h1.4v1.3h-1.4zM1118 390.6h1.4v1.3h-1.4zM1121.6 396.7h1.4v1.3h-1.4zM1125.2 390.6h1.4v1.3h-1.4zM1128.8 396.7h1.4v1.3h-1.4zM1132.4 390.6h1.4v1.3h-1.4zM1136 396.7h1.4v1.3h-1.4zM1139.6 390.6h1.4v1.3h-1.4zM1143.2 396.7h1.4v1.3h-1.4zM1146.8 390.6h1.4v1.3h-1.4zM1150.4 396.7h1.4v1.3h-1.4zM1154 390.6h1.4v1.3h-1.4zM1157.6 396.7h1.4v1.3h-1.4zM1161.2 390.6h1.4v1.3h-1.4zM1164.8 396.7h1.4v1.3h-1.4zM1168.4 390.6h1.4v1.3h-1.4zM1172 396.7h1.4v1.3h-1.4zM1175.6 390.6h1.4v1.3h-1.4zM1179.2 396.7h1.4v1.3h-1.4zM1182.8 390.6h1.4v1.3h-1.4zM1186.4 396.7h1.4v1.3h-1.4zM1190 390.6h1.4v1.3h-1.4zM1193.6 396.7h1.4v1.3h-1.4zM1197.2 390.6h1.4v1.3h-1.4zM1200.8 396.7h1.4v1.3h-1.4zM1204.4 390.6h1.4v1.3h-1.4zM1208 396.7h1.4v1.3h-1.4zM1211.6 390.6h1.4v1.3h-1.4zM1215.2 396.7h1.4v1.3h-1.4zM1218.8 390.6h1.4v1.3h-1.4zM1222.4 396.7h1.4v1.3h-1.4zM1226 390.6h1.4v1.3h-1.4zM1229.6 396.7h1.4v1.3h-1.4zM1233.2 390.6h1.4v1.3h-1.4zM1236.8 396.7h1.4v1.3h-1.4zM1240.4 390.6h1.4v1.3h-1.4zM1244 396.7h1.4v1.3h-1.4zM1247.6 390.6h1.4v1.3h-1.4zM1251.2 396.7h1.4v1.3h-1.4zM1254.8 390.6h1.4v1.3h-1.4zM1258.4 396.7h1.4v1.3h-1.4zM1262 390.6h1.4v1.3h-1.4zM1265.6 396.7h1.4v1.3h-1.4zM1269.2 390.6h1.4v1.3h-1.4zM1272.8 396.7h1.4v1.3h-1.4zM1276.4 390.6h1.4v1.3h-1.4zM1280 396.7h1.4v1.3h-1.4zM1283.6 390.6h1.4v1.3h-1.4zM1287.2 396.7h1.4v1.3h-1.4zM1290.8 390.6h1.4v1.3h-1.4zM1294.4 396.7h1.4v1.3h-1.4zM1298 390.6h1.4v1.3h-1.4zM1301.6 396.7h1.4v1.3h-1.4zM1305.2 390.6h1.4v1.3h-1.4zM1308.8 396.7h1.4v1.3h-1.4zM1312.4 390.6h1.4v1.3h-1.4zM1316 396.7h1.4v1.3h-1.4zM1319.6 390.6h1.4v1.3h-1.4zM1323.2 396.7h1.4v1.3h-1.4zM1326.8 390.6h1.4v1.3h-1.4zM1330.4 396.7h1.4v1.3h-1.4zM1334 390.6h1.4v1.3h-1.4zM1337.6 396.7h1.4v1.3h-1.4zM1341.2 390.6h1.4v1.3h-1.4zM1344.8 396.7h1.4v1.3h-1.4zM1348.4 390.6h1.4v1.3h-1.4zM1352 396.7h1.4v1.3h-1.4zM1355.6 390.6h1.4v1.3h-1.4zM1359.2 396.7h1.4v1.3h-1.4zM1362.8 390.6h1.4v1.3h-1.4zM1366.4 396.7h1.4v1.3h-1.4zM1370 390.6h1.4v1.3h-1.4zM1373.6 396.7h1.4v1.3h-1.4zM1377.2 390.6h1.4v1.3h-1.4zM1380.8 396.7h1.4v1.3h-1.4zM1384.4 390.6h1.4v1.3h-1.4zM1388 396.7h1.4v1.3h-1.4zM1391.6 390.6h1.4v1.3h-1.4zM1395.2 396.7h1.4v1.3h-1.4zM1398.8 390.6h1.4v1.3h-1.4zM1402.4 396.7h1.4v1.3h-1.4zM1406 390.6h1.4v1.3h-1.4zM1409.6 396.7h1.4v1.3h-1.4zM1413.2 390.6h1.4v1.3h-1.4zM1416.8 396.7h1.4v1.3h-1.4zM1420.4 390.6h1.4v1.3h-1.4zM1424 396.7h1.4v1.3h-1.4zM1427.6 390.6h1.4v1.3h-1.4zM1431.2 396.7h1.4v1.3h-1.4zM1434.8 390.6h1.4v1.3h-1.4zM1438.4 396.7h1.4v1.3h-1.4zM1442 390.6h1.4v1.3h-1.4zM1445.6 396.7h1.4v1.3h-1.4zM1449.2 390.6h1.4v1.3h-1.4z"/><path fill="#fff" fill-opacity="0.7" d="M1002 394.1h1.3v1.1h-1.3zM1004.4 394.1h1.3v1.1h-1.3zM1006.8 394.1h1.3v1.1h-1.3zM1009.2 394.1h1.3v1.1h-1.3zM1011.6 394.1h1.3v1.1h-1.3zM1014 394.1h1.3v1.1h-1.3zM1016.4 394.1h1.3v1.1h-1.3zM1018.8 394.1h1.3v1.1h-1.3zM1021.2 394.1h1.3v1.1h-1.3zM1023.6 394.1h1.3v1.1h-1.3zM1026 394.1h1.3v1.1h-1.3zM1028.4 394.1h1.3v1.1h-1.3zM1030.8 394.1h1.3v1.1h-1.3zM1033.2 394.1h1.3v1.1h-1.3zM1035.6 394.1h1.3v1.1h-1.3zM1038 394.1h1.3v1.1h-1.3zM1040.4 394.1h1.3v1.1h-1.3zM1042.8 394.1h1.3v1.1h-1.3zM1045.2 394.1h1.3v1.1h-1.3zM1047.6 394.1h1.3v1.1h-1.3zM1050 394.1h1.3v1.1h-1.3zM1052.4 394.1h1.3v1.1h-1.3zM1054.8 394.1h1.3v1.1h-1.3zM1057.2 394.1h1.3v1.1h-1.3zM1059.6 394.1h1.3v1.1h-1.3zM1062 394.1h1.3v1.1h-1.3zM1064.4 394.1h1.3v1.1h-1.3zM1066.8 394.1h1.3v1.1h-1.3zM1069.2 394.1h1.3v1.1h-1.3zM1071.6 394.1h1.3v1.1h-1.3zM1074 394.1h1.3v1.1h-1.3zM1076.4 394.1h1.3v1.1h-1.3zM1078.8 394.1h1.3v1.1h-1.3zM1081.2 394.1h1.3v1.1h-1.3zM1083.6 394.1h1.3v1.1h-1.3zM1086 394.1h1.3v1.1h-1.3zM1088.4 394.1h1.3v1.1h-1.3zM1090.8 394.1h1.3v1.1h-1.3zM1093.2 394.1h1.3v1.1h-1.3zM1095.6 394.1h1.3v1.1h-1.3zM1098 394.1h1.3v1.1h-1.3zM1100.4 394.1h1.3v1.1h-1.3zM1102.8 394.1h1.3v1.1h-1.3z"/><path fill="#c4e8ff" fill-opacity="0.85" d="M169.8 428.5h8v1.7h-8zM286 428.5h8v1.7h-8zM401.8 428.5h8v1.7h-8zM634.2 428.5h8v1.7h-8zM750 428.5h8v1.7h-8zM1446.4 428.5h8v1.7h-8z"/><path fill="#c4e8ff" fill-opacity="0.8" d="M169.8 431.1h8v1.7h-8zM286 431.1h8v1.7h-8zM401.8 431.1h8v1.7h-8zM634.2 431.1h8v1.7h-8zM750 431.1h8v1.7h-8zM1446.4 431.1h8v1.7h-8z"/><path fill="#f6dde6" fill-opacity="0.85" d="M423 479h12v1.6h-12zM436 478.4h9v1.4h-9zM446.3 480h2v1.6h-2zM452 479h12v1.6h-12zM465 478.4h9v1.4h-9zM475.3 480h2v1.6h-2zM481 479h12v1.6h-12zM494 478.4h9v1.4h-9zM504.3 480h2v1.6h-2zM510.1 479h12v1.6h-12zM523.1 478.4h9v1.4h-9zM533.4 480h2v1.6h-2zM772 479h12v1.6h-12zM785 478.4h9v1.4h-9zM795.3 480h2v1.6h-2zM801 479h12v1.6h-12zM814 478.4h9v1.4h-9zM824.3 480h2v1.6h-2zM830 479h12v1.6h-12zM843 478.4h9v1.4h-9zM853.3 480h2v1.6h-2zM859.1 479h12v1.6h-12zM872.1 478.4h9v1.4h-9zM882.4 480h2v1.6h-2zM1119 479h12v1.6h-12zM1132 478.4h9v1.4h-9zM1142.3 480h2v1.6h-2zM1148 479h12v1.6h-12zM1161 478.4h9v1.4h-9zM1171.3 480h2v1.6h-2zM1177 479h12v1.6h-12zM1190 478.4h9v1.4h-9zM1200.3 480h2v1.6h-2zM1206.1 479h12v1.6h-12zM1219.1 478.4h9v1.4h-9zM1229.4 480h2v1.6h-2zM1235.1 479h12v1.6h-12zM1248.1 478.4h9v1.4h-9zM1258.4 480h2v1.6h-2zM1264.1 479h12v1.6h-12zM1277.1 478.4h9v1.4h-9zM1287.4 480h2v1.6h-2zM1293.1 479h12v1.6h-12zM1306.1 478.4h9v1.4h-9zM1316.4 480h2v1.6h-2zM1322.1 479h12v1.6h-12zM1335.1 478.4h9v1.4h-9zM1345.4 480h2v1.6h-2z"/><path fill="#f6dde6" fill-opacity="0.8" d="M424 481.3h10.5v1.5h-10.5zM437 480.6h8v1.4h-8zM453 481.3h10.5v1.5h-10.5zM466 480.6h8v1.4h-8zM482 481.3h10.5v1.5h-10.5zM495 480.6h8v1.4h-8zM511.1 481.3h10.5v1.5h-10.5zM524.1 480.6h8v1.4h-8zM773 481.3h10.5v1.5h-10.5zM786 480.6h8v1.4h-8zM802 481.3h10.5v1.5h-10.5zM815 480.6h8v1.4h-8zM831 481.3h10.5v1.5h-10.5zM844 480.6h8v1.4h-8zM860.1 481.3h10.5v1.5h-10.5zM873.1 480.6h8v1.4h-8zM1120 481.3h10.5v1.5h-10.5zM1133 480.6h8v1.4h-8zM1149 481.3h10.5v1.5h-10.5zM1162 480.6h8v1.4h-8zM1178 481.3h10.5v1.5h-10.5zM1191 480.6h8v1.4h-8zM1207.1 481.3h10.5v1.5h-10.5zM1220.1 480.6h8v1.4h-8zM1236.1 481.3h10.5v1.5h-10.5zM1249.1 480.6h8v1.4h-8zM1265.1 481.3h10.5v1.5h-10.5zM1278.1 480.6h8v1.4h-8zM1294.1 481.3h10.5v1.5h-10.5zM1307.1 480.6h8v1.4h-8zM1323.1 481.3h10.5v1.5h-10.5zM1336.1 480.6h8v1.4h-8z"/><path fill="#f6dde6" fill-opacity="0.7" d="M425 483h2.5v1.2h-2.5zM454 483h2.5v1.2h-2.5zM483 483h2.5v1.2h-2.5zM512.1 483h2.5v1.2h-2.5zM774 483h2.5v1.2h-2.5zM803 483h2.5v1.2h-2.5zM832 483h2.5v1.2h-2.5zM861.1 483h2.5v1.2h-2.5zM1121 483h2.5v1.2h-2.5zM1150 483h2.5v1.2h-2.5zM1179 483h2.5v1.2h-2.5zM1208.1 483h2.5v1.2h-2.5zM1237.1 483h2.5v1.2h-2.5zM1266.1 483h2.5v1.2h-2.5zM1295.1 483h2.5v1.2h-2.5zM1324.1 483h2.5v1.2h-2.5z"/><path fill="#fff" fill-opacity="0.9" d="M306 481h83v1.3h-83zM389 483.4h26v1.3h-26zM331 482h4v1.3h-4zM361 480.8h4v1.3h-4zM655 481h83v1.3h-83zM738 483.4h26v1.3h-26zM680 482h4v1.3h-4zM710 480.8h4v1.3h-4zM423 530h8.8v1.3h-8.8zM431.8 530.5h10.2v1.3h-10.2zM442.1 531.3h8.5v1.3h-8.5zM450.5 531.5h5.6v1.3h-5.6zM456.2 530.1h8.8v1.3h-8.8zM464.9 529.8h9.8v1.3h-9.8zM474.7 530.5h10.9v1.3h-10.9zM485.7 531h7.2v1.3h-7.2zM492.8 529.6h7.7v1.3h-7.7zM500.5 529.3h9.5v1.3h-9.5zM509.9 529.8h9.9v1.3h-9.9zM519.9 531.5h8.8v1.3h-8.8zM528.7 530.7h8.5v1.3h-8.5zM537.2 529.2h0.8v1.3h-0.8zM772 529.5h5.2v1.3h-5.2zM777.2 530.2h8.7v1.3h-8.7zM785.9 531.3h8.1v1.3h-8.1zM794 529.7h5.8v1.3h-5.8zM799.8 529.2h8.9v1.3h-8.9zM808.7 530h5v1.3h-5zM813.7 530h5.6v1.3h-5.6zM819.3 530.6h6.3v1.3h-6.3zM825.7 529.6h8.5v1.3h-8.5zM834.2 530.3h8.7v1.3h-8.7zM843 531.4h5.8v1.3h-5.8zM848.8 529.5h6.5v1.3h-6.5zM855.2 530.7h5.6v1.3h-5.6zM860.8 531h10.2v1.3h-10.2zM871 529.8h7.4v1.3h-7.4zM878.4 530.7h5.1v1.3h-5.1zM883.5 530h3.5v1.3h-3.5zM1119 530.2h8.9v1.3h-8.9zM1127.9 530.9h10.6v1.3h-10.6zM1138.5 531.3h6.5v1.3h-6.5zM1145 530.4h5.3v1.3h-5.3zM1150.3 529.7h7.4v1.3h-7.4zM1157.7 531h5.4v1.3h-5.4zM1163 530.5h5.1v1.3h-5.1zM1168.1 529.5h10.6v1.3h-10.6zM1178.8 530.6h6.2v1.3h-6.2zM1185 530.7h8v1.3h-8zM1193 529.6h9.9v1.3h-9.9zM1202.9 529.9h6.9v1.3h-6.9zM1209.7 531.3h5.3v1.3h-5.3zM1215 530.9h9.7v1.3h-9.7zM1224.7 531.2h5v1.3h-5zM1229.8 530.3h9.5v1.3h-9.5zM1239.2 530.2h9.5v1.3h-9.5zM1248.7 529.4h6.4v1.3h-6.4zM1255 529.2h6.4v1.3h-6.4zM1261.4 530.9h7v1.3h-7zM1268.4 531.2h9.2v1.3h-9.2zM1277.6 529.8h9.3v1.3h-9.3zM1286.9 530.2h8.3v1.3h-8.3zM1295.2 530.4h9.7v1.3h-9.7zM1304.9 530.7h6.6v1.3h-6.6zM1311.5 529.7h10.8v1.3h-10.8zM1322.3 529.2h10.3v1.3h-10.3zM1332.6 529.7h6.6v1.3h-6.6zM1339.2 531.4h9.5v1.3h-9.5zM1348.6 529.9h2.4v1.3h-2.4z"/><path fill="#fff" fill-opacity="0.22" d="M162 571.3h29v1h-29z"/><path fill="#f3d8ff" fill-opacity="0.85" d="M132 629.7h1.6v1.5h-1.6zM161 629.7h1.6v1.5h-1.6zM190 629.7h1.6v1.5h-1.6zM219.1 629.7h1.6v1.5h-1.6zM248.1 629.7h1.6v1.5h-1.6zM277.1 629.7h1.6v1.5h-1.6zM306.1 629.7h1.6v1.5h-1.6zM335.1 629.7h1.6v1.5h-1.6zM364.2 629.7h1.6v1.5h-1.6zM393.2 629.7h1.6v1.5h-1.6zM538.3 629.7h1.6v1.5h-1.6zM567.3 629.7h1.6v1.5h-1.6zM596.3 629.7h1.6v1.5h-1.6zM625.3 629.7h1.6v1.5h-1.6zM654.4 629.7h1.6v1.5h-1.6zM683.4 629.7h1.6v1.5h-1.6zM712.4 629.7h1.6v1.5h-1.6zM741.4 629.7h1.6v1.5h-1.6zM1350.8 629.7h1.6v1.5h-1.6zM1379.9 629.7h1.6v1.5h-1.6zM1408.9 629.7h1.6v1.5h-1.6zM1437.9 629.7h1.6v1.5h-1.6z"/><path fill="#c8ffff" fill-opacity="0.9" d="M293 677.8h3.2v1.4h-3.2zM297.2 679h2.2v1.5h-2.2zM301.2 680.3h1.6v1.4h-1.6zM302.3 680.9h1.6v1.4h-1.6zM303.4 681.5h1.6v1.4h-1.6zM304.5 682.2h1.6v1.4h-1.6zM305.6 682.8h1.6v1.4h-1.6zM641.6 677.8h3.2v1.4h-3.2zM645.8 679h2.2v1.5h-2.2zM649.8 680.3h1.6v1.4h-1.6zM650.9 680.9h1.6v1.4h-1.6zM652 681.5h1.6v1.4h-1.6zM653.1 682.2h1.6v1.4h-1.6zM654.2 682.8h1.6v1.4h-1.6z"/><path fill="#b8ffff" fill-opacity="0.9" d="M419.2 680.3h1.6v1.5h-1.6zM420.8 681.6h1.8v1.4h-1.8zM533.8 680.3h1.6v1.5h-1.6zM535.4 681.6h1.8v1.4h-1.8zM766 680.3h1.6v1.5h-1.6zM767.6 681.6h1.8v1.4h-1.8zM882.6 680.3h1.6v1.5h-1.6zM884.2 681.6h1.8v1.4h-1.8zM1115 680.3h1.6v1.5h-1.6zM1116.6 681.6h1.8v1.4h-1.8zM1230.2 680.3h1.6v1.5h-1.6zM1231.8 681.6h1.8v1.4h-1.8zM1345.6 680.3h1.6v1.5h-1.6zM1347.2 681.6h1.8v1.4h-1.8z"/></g>
<rect x="1204.8" y="105.2" width="151.3" height="151.7" fill="#fde725"/>
<path d="M1210.50 111.30h39.06v5.58h-39.06zM1255.14 111.30h5.58v5.58h-5.58zM1271.88 111.30h11.16v5.58h-11.16zM1288.62 111.30h5.58v5.58h-5.58zM1310.94 111.30h39.06v5.58h-39.06zM1210.50 116.88h5.58v5.58h-5.58zM1243.98 116.88h5.58v5.58h-5.58zM1260.72 116.88h11.16v5.58h-11.16zM1283.04 116.88h11.16v5.58h-11.16zM1310.94 116.88h5.58v5.58h-5.58zM1344.42 116.88h5.58v5.58h-5.58zM1210.50 122.46h5.58v5.58h-5.58zM1221.66 122.46h16.74v5.58h-16.74zM1243.98 122.46h5.58v5.58h-5.58zM1266.30 122.46h5.58v5.58h-5.58zM1277.46 122.46h16.74v5.58h-16.74zM1310.94 122.46h5.58v5.58h-5.58zM1322.10 122.46h16.74v5.58h-16.74zM1344.42 122.46h5.58v5.58h-5.58zM1210.50 128.04h5.58v5.58h-5.58zM1221.66 128.04h16.74v5.58h-16.74zM1243.98 128.04h5.58v5.58h-5.58zM1277.46 128.04h11.16v5.58h-11.16zM1299.78 128.04h5.58v5.58h-5.58zM1310.94 128.04h5.58v5.58h-5.58zM1322.10 128.04h16.74v5.58h-16.74zM1344.42 128.04h5.58v5.58h-5.58zM1210.50 133.62h5.58v5.58h-5.58zM1221.66 133.62h16.74v5.58h-16.74zM1243.98 133.62h5.58v5.58h-5.58zM1260.72 133.62h5.58v5.58h-5.58zM1271.88 133.62h5.58v5.58h-5.58zM1283.04 133.62h11.16v5.58h-11.16zM1299.78 133.62h5.58v5.58h-5.58zM1310.94 133.62h5.58v5.58h-5.58zM1322.10 133.62h16.74v5.58h-16.74zM1344.42 133.62h5.58v5.58h-5.58zM1210.50 139.20h5.58v5.58h-5.58zM1243.98 139.20h5.58v5.58h-5.58zM1266.30 139.20h5.58v5.58h-5.58zM1277.46 139.20h5.58v5.58h-5.58zM1288.62 139.20h5.58v5.58h-5.58zM1310.94 139.20h5.58v5.58h-5.58zM1344.42 139.20h5.58v5.58h-5.58zM1210.50 144.78h39.06v5.58h-39.06zM1255.14 144.78h5.58v5.58h-5.58zM1266.30 144.78h5.58v5.58h-5.58zM1277.46 144.78h5.58v5.58h-5.58zM1288.62 144.78h5.58v5.58h-5.58zM1299.78 144.78h5.58v5.58h-5.58zM1310.94 144.78h39.06v5.58h-39.06zM1255.14 150.36h5.58v5.58h-5.58zM1266.30 150.36h11.16v5.58h-11.16zM1283.04 150.36h11.16v5.58h-11.16zM1210.50 155.94h11.16v5.58h-11.16zM1227.24 155.94h11.16v5.58h-11.16zM1243.98 155.94h5.58v5.58h-5.58zM1260.72 155.94h16.74v5.58h-16.74zM1288.62 155.94h5.58v5.58h-5.58zM1299.78 155.94h5.58v5.58h-5.58zM1310.94 155.94h5.58v5.58h-5.58zM1344.42 155.94h5.58v5.58h-5.58zM1210.50 161.52h16.74v5.58h-16.74zM1238.40 161.52h5.58v5.58h-5.58zM1260.72 161.52h5.58v5.58h-5.58zM1277.46 161.52h5.58v5.58h-5.58zM1288.62 161.52h11.16v5.58h-11.16zM1305.36 161.52h5.58v5.58h-5.58zM1316.52 161.52h27.90v5.58h-27.90zM1210.50 167.10h11.16v5.58h-11.16zM1232.82 167.10h5.58v5.58h-5.58zM1243.98 167.10h11.16v5.58h-11.16zM1266.30 167.10h11.16v5.58h-11.16zM1294.20 167.10h5.58v5.58h-5.58zM1310.94 167.10h11.16v5.58h-11.16zM1327.68 167.10h5.58v5.58h-5.58zM1344.42 167.10h5.58v5.58h-5.58zM1210.50 172.68h5.58v5.58h-5.58zM1227.24 172.68h11.16v5.58h-11.16zM1260.72 172.68h22.32v5.58h-22.32zM1288.62 172.68h5.58v5.58h-5.58zM1316.52 172.68h5.58v5.58h-5.58zM1327.68 172.68h22.32v5.58h-22.32zM1210.50 178.26h5.58v5.58h-5.58zM1227.24 178.26h5.58v5.58h-5.58zM1238.40 178.26h27.90v5.58h-27.90zM1271.88 178.26h11.16v5.58h-11.16zM1294.20 178.26h11.16v5.58h-11.16zM1310.94 178.26h5.58v5.58h-5.58zM1344.42 178.26h5.58v5.58h-5.58zM1210.50 183.84h11.16v5.58h-11.16zM1232.82 183.84h5.58v5.58h-5.58zM1255.14 183.84h11.16v5.58h-11.16zM1283.04 183.84h5.58v5.58h-5.58zM1294.20 183.84h16.74v5.58h-16.74zM1322.10 183.84h5.58v5.58h-5.58zM1338.84 183.84h5.58v5.58h-5.58zM1210.50 189.42h27.90v5.58h-27.90zM1243.98 189.42h16.74v5.58h-16.74zM1271.88 189.42h11.16v5.58h-11.16zM1294.20 189.42h5.58v5.58h-5.58zM1305.36 189.42h11.16v5.58h-11.16zM1322.10 189.42h27.90v5.58h-27.90zM1210.50 195.00h5.58v5.58h-5.58zM1221.66 195.00h5.58v5.58h-5.58zM1232.82 195.00h11.16v5.58h-11.16zM1249.56 195.00h16.74v5.58h-16.74zM1271.88 195.00h5.58v5.58h-5.58zM1299.78 195.00h11.16v5.58h-11.16zM1316.52 195.00h5.58v5.58h-5.58zM1327.68 195.00h11.16v5.58h-11.16zM1344.42 195.00h5.58v5.58h-5.58zM1210.50 200.58h5.58v5.58h-5.58zM1243.98 200.58h11.16v5.58h-11.16zM1260.72 200.58h5.58v5.58h-5.58zM1277.46 200.58h16.74v5.58h-16.74zM1299.78 200.58h27.90v5.58h-27.90zM1333.26 200.58h11.16v5.58h-11.16zM1255.14 206.16h11.16v5.58h-11.16zM1271.88 206.16h16.74v5.58h-16.74zM1299.78 206.16h5.58v5.58h-5.58zM1322.10 206.16h5.58v5.58h-5.58zM1333.26 206.16h11.16v5.58h-11.16zM1210.50 211.74h39.06v5.58h-39.06zM1271.88 211.74h5.58v5.58h-5.58zM1299.78 211.74h5.58v5.58h-5.58zM1310.94 211.74h5.58v5.58h-5.58zM1322.10 211.74h5.58v5.58h-5.58zM1344.42 211.74h5.58v5.58h-5.58zM1210.50 217.32h5.58v5.58h-5.58zM1243.98 217.32h5.58v5.58h-5.58zM1260.72 217.32h5.58v5.58h-5.58zM1283.04 217.32h22.32v5.58h-22.32zM1322.10 217.32h5.58v5.58h-5.58zM1338.84 217.32h11.16v5.58h-11.16zM1210.50 222.90h5.58v5.58h-5.58zM1221.66 222.90h16.74v5.58h-16.74zM1243.98 222.90h5.58v5.58h-5.58zM1255.14 222.90h11.16v5.58h-11.16zM1271.88 222.90h11.16v5.58h-11.16zM1288.62 222.90h39.06v5.58h-39.06zM1210.50 228.48h5.58v5.58h-5.58zM1221.66 228.48h16.74v5.58h-16.74zM1243.98 228.48h5.58v5.58h-5.58zM1255.14 228.48h22.32v5.58h-22.32zM1288.62 228.48h16.74v5.58h-16.74zM1310.94 228.48h5.58v5.58h-5.58zM1338.84 228.48h11.16v5.58h-11.16zM1210.50 234.06h5.58v5.58h-5.58zM1221.66 234.06h16.74v5.58h-16.74zM1243.98 234.06h5.58v5.58h-5.58zM1271.88 234.06h5.58v5.58h-5.58zM1283.04 234.06h11.16v5.58h-11.16zM1299.78 234.06h11.16v5.58h-11.16zM1322.10 234.06h27.90v5.58h-27.90zM1210.50 239.64h5.58v5.58h-5.58zM1243.98 239.64h5.58v5.58h-5.58zM1255.14 239.64h11.16v5.58h-11.16zM1288.62 239.64h5.58v5.58h-5.58zM1316.52 239.64h11.16v5.58h-11.16zM1333.26 239.64h16.74v5.58h-16.74zM1210.50 245.22h39.06v5.58h-39.06zM1255.14 245.22h16.74v5.58h-16.74zM1277.46 245.22h5.58v5.58h-5.58zM1299.78 245.22h11.16v5.58h-11.16zM1327.68 245.22h5.58v5.58h-5.58zM1344.42 245.22h5.58v5.58h-5.58z" fill="#44015c"/>
<text transform="translate(60.0,31.80) scale(0.965,1)" font-family="DejaVu Sans, sans-serif" font-weight="bold" font-size="25.4" fill="#ffffff">Rain</text>
<text transform="translate(60.0,79.91) scale(0.965,1)" font-family="DejaVu Sans, sans-serif" font-weight="bold" font-size="25.4" fill="#ffffff">SynBass1</text>
<text transform="translate(60.0,128.02) scale(0.965,1)" font-family="DejaVu Sans, sans-serif" font-weight="bold" font-size="25.4" fill="#ffffff">RockOrgn</text>
<text transform="translate(60.0,176.13) scale(0.965,1)" font-family="DejaVu Sans, sans-serif" font-weight="bold" font-size="25.4" fill="#ffffff">SquareLd</text>
<text transform="translate(60.0,224.24) scale(0.965,1)" font-family="DejaVu Sans, sans-serif" font-weight="bold" font-size="25.4" fill="#ffffff">Ensmble1</text>
<text transform="translate(60.0,272.35) scale(0.965,1)" font-family="DejaVu Sans, sans-serif" font-weight="bold" font-size="25.4" fill="#ffffff">SynStrg2</text>
<text transform="translate(60.0,320.46) scale(0.965,1)" font-family="DejaVu Sans, sans-serif" font-weight="bold" font-size="25.4" fill="#ffffff">SquareLd</text>
<text transform="translate(60.0,368.57) scale(0.965,1)" font-family="DejaVu Sans, sans-serif" font-weight="bold" font-size="25.4" fill="#ffffff">GM Drums</text>
<text transform="translate(60.0,416.68) scale(0.965,1)" font-family="DejaVu Sans, sans-serif" font-weight="bold" font-size="25.4" fill="#ffffff">SynBras2</text>
<text transform="translate(60.0,464.79) scale(0.965,1)" font-family="DejaVu Sans, sans-serif" font-weight="bold" font-size="25.4" fill="#ffffff">SynBras1</text>
<text transform="translate(60.0,512.90) scale(0.965,1)" font-family="DejaVu Sans, sans-serif" font-weight="bold" font-size="25.4" fill="#ffffff">Echoes</text>
<text transform="translate(60.0,561.01) scale(0.965,1)" font-family="DejaVu Sans, sans-serif" font-weight="bold" font-size="25.4" fill="#ffffff">Ocarina</text>
<text transform="translate(60.0,609.12) scale(0.965,1)" font-family="DejaVu Sans, sans-serif" font-weight="bold" font-size="25.4" fill="#ffffff">TaikoDrm</text>
<text transform="translate(60.0,657.23) scale(0.965,1)" font-family="DejaVu Sans, sans-serif" font-weight="bold" font-size="25.4" fill="#ffffff">MelodTom</text>
<line x1="31.35" y1="696" x2="31.35" y2="702.5" stroke="#ffffff" stroke-width="1.5"/>
<text x="31.35" y="722" text-anchor="middle" font-family="DejaVu Sans, sans-serif" font-size="17.7" fill="#ffffff">0.0s</text>
<line x1="209.70" y1="696" x2="209.70" y2="702.5" stroke="#ffffff" stroke-width="1.5"/>
<text x="209.70" y="722" text-anchor="middle" font-family="DejaVu Sans, sans-serif" font-size="17.7" fill="#ffffff">25.0s</text>
<line x1="388.05" y1="696" x2="388.05" y2="702.5" stroke="#ffffff" stroke-width="1.5"/>
<text x="388.05" y="722" text-anchor="middle" font-family="DejaVu Sans, sans-serif" font-size="17.7" fill="#ffffff">50.0s</text>
<line x1="566.40" y1="696" x2="566.40" y2="702.5" stroke="#ffffff" stroke-width="1.5"/>
<text x="566.40" y="722" text-anchor="middle" font-family="DejaVu Sans, sans-serif" font-size="17.7" fill="#ffffff">75.0s</text>
<line x1="744.75" y1="696" x2="744.75" y2="702.5" stroke="#ffffff" stroke-width="1.5"/>
<text x="744.75" y="722" text-anchor="middle" font-family="DejaVu Sans, sans-serif" font-size="17.7" fill="#ffffff">100.0s</text>
<line x1="923.10" y1="696" x2="923.10" y2="702.5" stroke="#ffffff" stroke-width="1.5"/>
<text x="923.10" y="722" text-anchor="middle" font-family="DejaVu Sans, sans-serif" font-size="17.7" fill="#ffffff">125.0s</text>
<line x1="1101.45" y1="696" x2="1101.45" y2="702.5" stroke="#ffffff" stroke-width="1.5"/>
<text x="1101.45" y="722" text-anchor="middle" font-family="DejaVu Sans, sans-serif" font-size="17.7" fill="#ffffff">150.0s</text>
<line x1="1279.80" y1="696" x2="1279.80" y2="702.5" stroke="#ffffff" stroke-width="1.5"/>
<text x="1279.80" y="722" text-anchor="middle" font-family="DejaVu Sans, sans-serif" font-size="17.7" fill="#ffffff">175.0s</text>
<line x1="1458.15" y1="696" x2="1458.15" y2="702.5" stroke="#ffffff" stroke-width="1.5"/>
<text x="1458.15" y="722" text-anchor="middle" font-family="DejaVu Sans, sans-serif" font-size="17.7" fill="#ffffff">200.0s</text>
<text x="24.6" y="741.2" font-family="DejaVu Sans, sans-serif" font-size="14" fill="#c4c4c4">© www.midifiles.com</text>
<g><rect x="599.2" y="712" width="302.8" height="28.5" fill="#2a2a2a"/><rect x="609.5" y="713.5" width="52" height="25" rx="3" fill="#141414" stroke="#050505" stroke-width="1"/><rect x="670.5" y="713.5" width="51.5" height="25" rx="3" fill="#141414" stroke="#050505" stroke-width="1"/><rect x="732" y="713.5" width="50" height="24.5" fill="#383838"/><rect x="745" y="720" width="23.5" height="12.8" fill="#8c8c8c"/><rect x="790.5" y="712.5" width="52.8" height="26" fill="#1f5320"/><polygon points="810,719 810,733.3 839.5,726.2" fill="#58c858"/><rect x="852.4" y="712.5" width="49.6" height="26" fill="#462222"/><ellipse cx="877.8" cy="726" rx="11.4" ry="6.3" fill="#dd3333"/><path d="M0,-1.6 Q5.5,-2.2 10.6,-7.2 L12.7,-4.6 L10.9,-2.8 L12.7,-1.7 L12.7,1.7 L10.9,2.8 L12.7,4.6 L10.6,7.2 Q5.5,2.2 0,1.6 Z" transform="translate(609.8,726)" fill="#ffffff"/><path d="M0,-1.6 Q5.5,-2.2 10.6,-7.2 L12.7,-4.6 L10.9,-2.8 L12.7,-1.7 L12.7,1.7 L10.9,2.8 L12.7,4.6 L10.6,7.2 Q5.5,2.2 0,1.6 Z" transform="translate(624.8,726)" fill="#ffffff"/><path d="M0,-1.6 Q5.5,-2.2 10.6,-7.2 L12.7,-4.6 L10.9,-2.8 L12.7,-1.7 L12.7,1.7 L10.9,2.8 L12.7,4.6 L10.6,7.2 Q5.5,2.2 0,1.6 Z" transform="translate(692.2,726) scale(-1,1)" fill="#ffffff"/><path d="M0,-1.6 Q5.5,-2.2 10.6,-7.2 L12.7,-4.6 L10.9,-2.8 L12.7,-1.7 L12.7,1.7 L10.9,2.8 L12.7,4.6 L10.6,7.2 Q5.5,2.2 0,1.6 Z" transform="translate(707.2,726) scale(-1,1)" fill="#ffffff"/></g>
</svg>
</body></html>
